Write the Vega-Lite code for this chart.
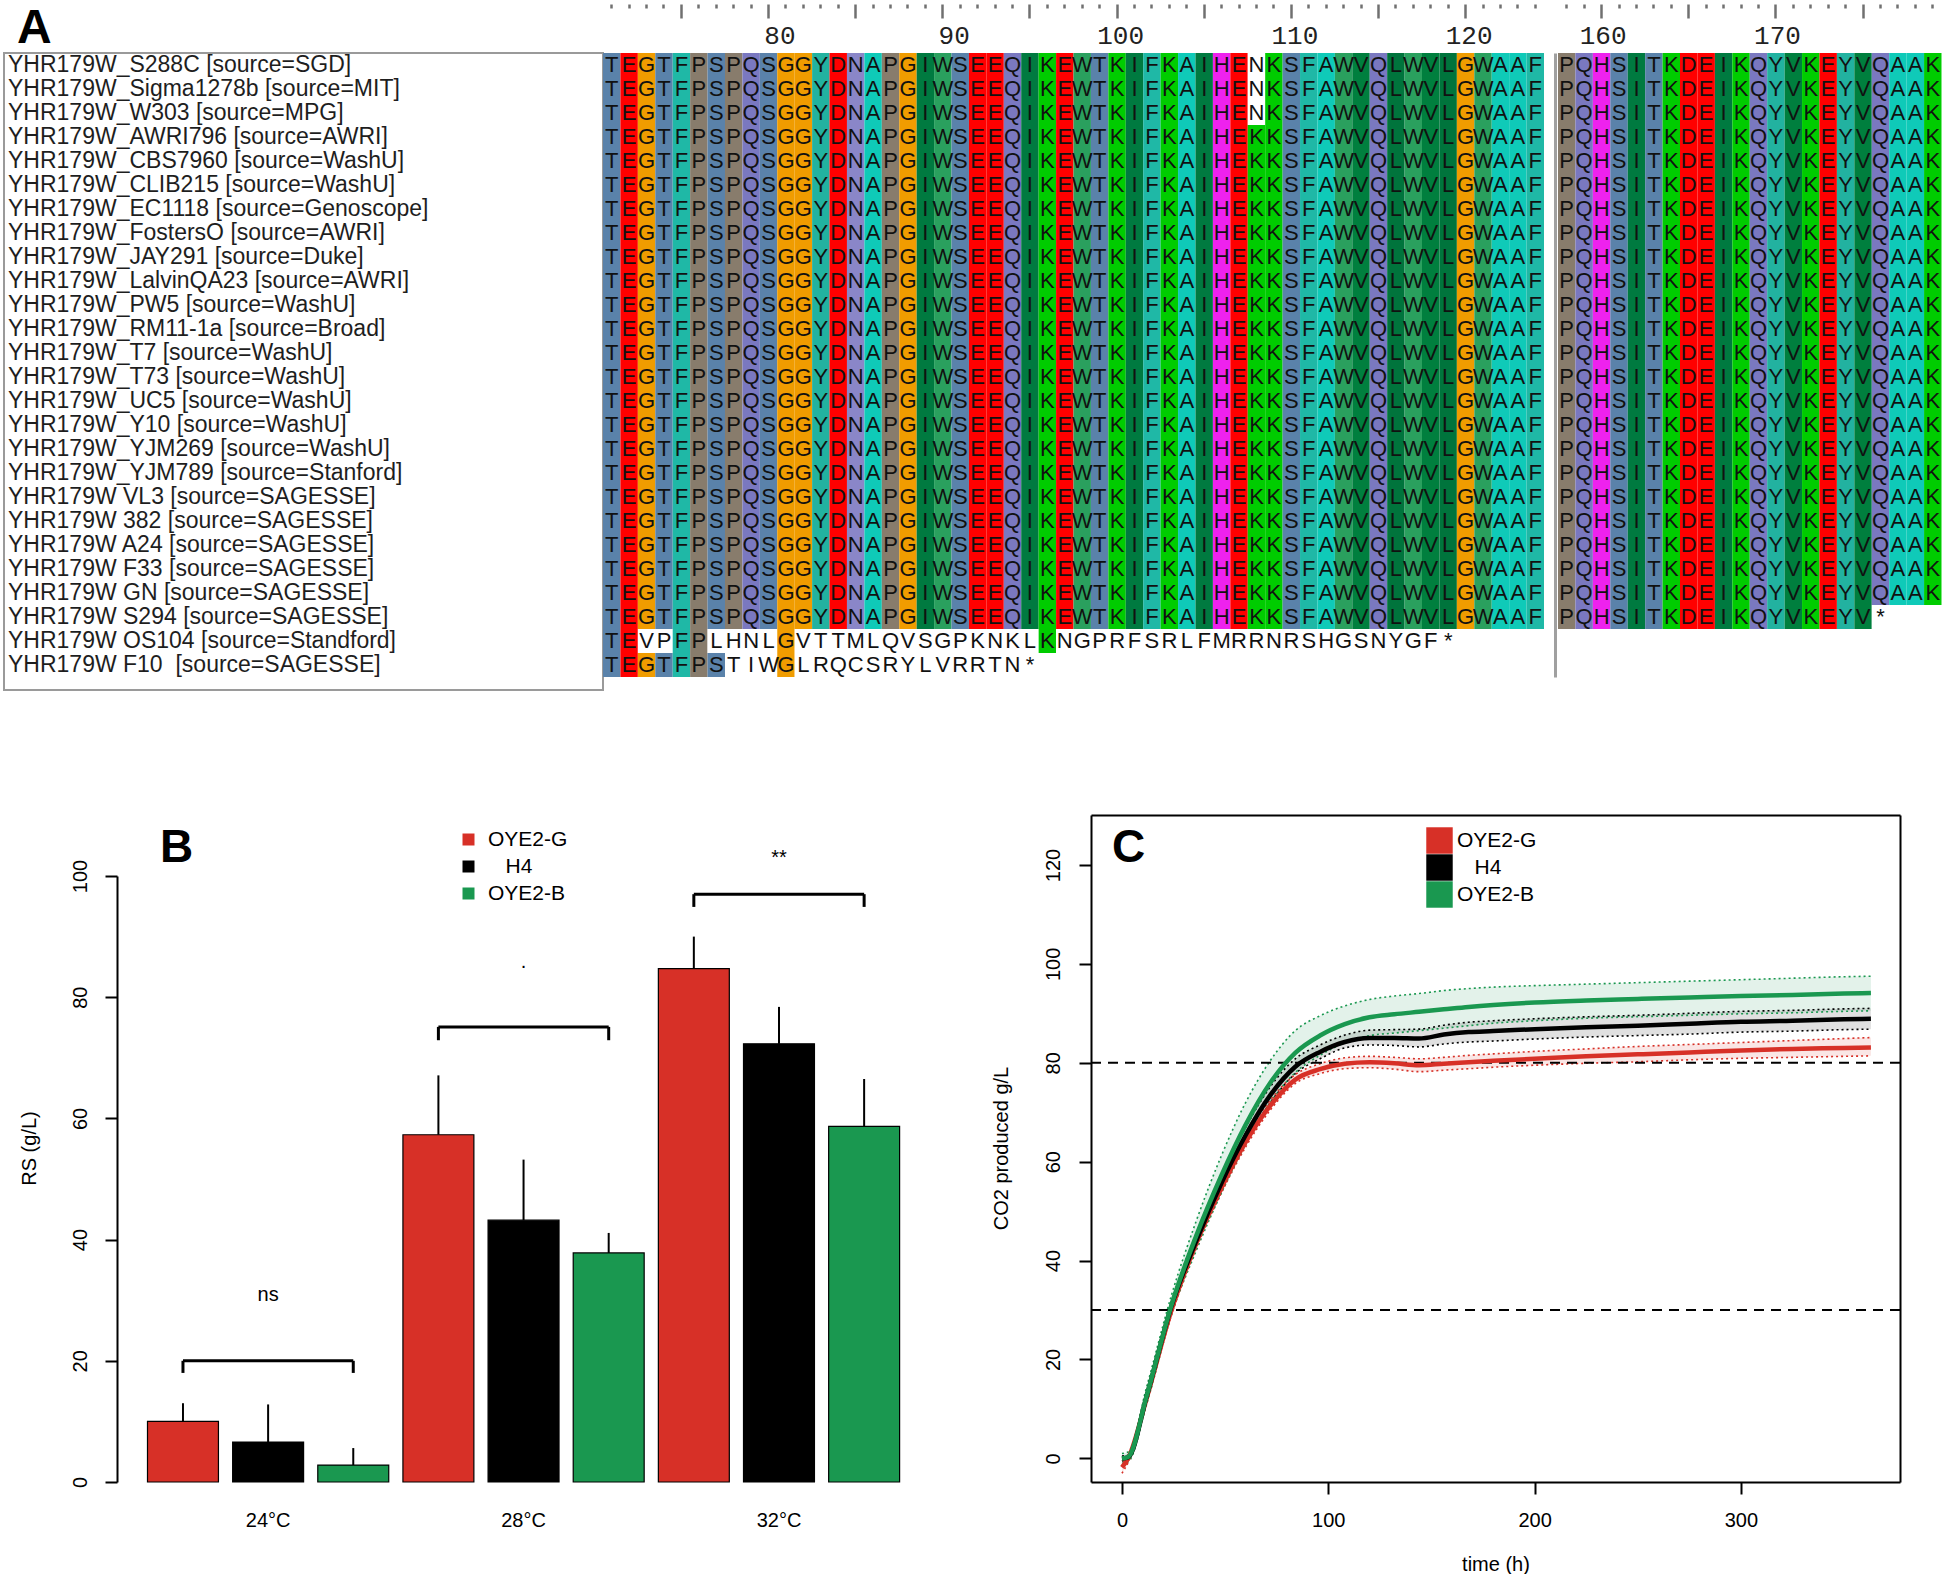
{
"$schema":"https://vega.github.io/schema/vega-lite/v6.json",
"padding":{"left":3,"top":2,"right":0,"bottom":0},
"autosize":{"type":"pad"},
"background":"white",
"config":{"font":"Liberation Sans","view":{"stroke":null},"axis":{"grid":false}},
"columns":3,
"align":"each",
"bounds":"flush",
"spacing":{"row":125,"column":0},
"resolve":{"scale":{"color":"independent"},"legend":{"color":"independent"}},
"datasets":{
"names":[{"r":1,"n":"YHR179W_S288C [source=SGD]"},{"r":2,"n":"YHR179W_Sigma1278b [source=MIT]"},{"r":3,"n":"YHR179W_W303 [source=MPG]"},{"r":4,"n":"YHR179W_AWRI796 [source=AWRI]"},{"r":5,"n":"YHR179W_CBS7960 [source=WashU]"},{"r":6,"n":"YHR179W_CLIB215 [source=WashU]"},{"r":7,"n":"YHR179W_EC1118 [source=Genoscope]"},{"r":8,"n":"YHR179W_FostersO [source=AWRI]"},{"r":9,"n":"YHR179W_JAY291 [source=Duke]"},{"r":10,"n":"YHR179W_LalvinQA23 [source=AWRI]"},{"r":11,"n":"YHR179W_PW5 [source=WashU]"},{"r":12,"n":"YHR179W_RM11-1a [source=Broad]"},{"r":13,"n":"YHR179W_T7 [source=WashU]"},{"r":14,"n":"YHR179W_T73 [source=WashU]"},{"r":15,"n":"YHR179W_UC5 [source=WashU]"},{"r":16,"n":"YHR179W_Y10 [source=WashU]"},{"r":17,"n":"YHR179W_YJM269 [source=WashU]"},{"r":18,"n":"YHR179W_YJM789 [source=Stanford]"},{"r":19,"n":"YHR179W VL3 [source=SAGESSE]"},{"r":20,"n":"YHR179W 382 [source=SAGESSE]"},{"r":21,"n":"YHR179W A24 [source=SAGESSE]"},{"r":22,"n":"YHR179W F33 [source=SAGESSE]"},{"r":23,"n":"YHR179W GN [source=SAGESSE]"},{"r":24,"n":"YHR179W S294 [source=SAGESSE]"},{"r":25,"n":"YHR179W OS104 [source=Standford]"},{"r":26,"n":"YHR179W F10\u00a0 [source=SAGESSE]"}],
"cons":[{"p":71,"c":"T"},{"p":72,"c":"E"},{"p":73,"c":"G"},{"p":74,"c":"T"},{"p":75,"c":"F"},{"p":76,"c":"P"},{"p":77,"c":"S"},{"p":78,"c":"P"},{"p":79,"c":"Q"},{"p":80,"c":"S"},{"p":81,"c":"G"},{"p":82,"c":"G"},{"p":83,"c":"Y"},{"p":84,"c":"D"},{"p":85,"c":"N"},{"p":86,"c":"A"},{"p":87,"c":"P"},{"p":88,"c":"G"},{"p":89,"c":"I"},{"p":90,"c":"W"},{"p":91,"c":"S"},{"p":92,"c":"E"},{"p":93,"c":"E"},{"p":94,"c":"Q"},{"p":95,"c":"I"},{"p":96,"c":"K"},{"p":97,"c":"E"},{"p":98,"c":"W"},{"p":99,"c":"T"},{"p":100,"c":"K"},{"p":101,"c":"I"},{"p":102,"c":"F"},{"p":103,"c":"K"},{"p":104,"c":"A"},{"p":105,"c":"I"},{"p":106,"c":"H"},{"p":107,"c":"E"},{"p":108,"c":"K"},{"p":109,"c":"K"},{"p":110,"c":"S"},{"p":111,"c":"F"},{"p":112,"c":"A"},{"p":113,"c":"W"},{"p":114,"c":"V"},{"p":115,"c":"Q"},{"p":116,"c":"L"},{"p":117,"c":"W"},{"p":118,"c":"V"},{"p":119,"c":"L"},{"p":120,"c":"G"},{"p":121,"c":"W"},{"p":122,"c":"A"},{"p":123,"c":"A"},{"p":124,"c":"F"},{"p":158,"c":"P"},{"p":159,"c":"Q"},{"p":160,"c":"H"},{"p":161,"c":"S"},{"p":162,"c":"I"},{"p":163,"c":"T"},{"p":164,"c":"K"},{"p":165,"c":"D"},{"p":166,"c":"E"},{"p":167,"c":"I"},{"p":168,"c":"K"},{"p":169,"c":"Q"},{"p":170,"c":"Y"},{"p":171,"c":"V"},{"p":172,"c":"K"},{"p":173,"c":"E"},{"p":174,"c":"Y"},{"p":175,"c":"V"},{"p":176,"c":"Q"},{"p":177,"c":"A"},{"p":178,"c":"A"},{"p":179,"c":"K"}],
"seq":[
{"r":1,"p":71,"a":"T"},{"r":1,"p":72,"a":"E"},{"r":1,"p":73,"a":"G"},{"r":1,"p":74,"a":"T"},{"r":1,"p":75,"a":"F"},{"r":1,"p":76,"a":"P"},{"r":1,"p":77,"a":"S"},{"r":1,"p":78,"a":"P"},{"r":1,"p":79,"a":"Q"},{"r":1,"p":80,"a":"S"},{"r":1,"p":81,"a":"G"},{"r":1,"p":82,"a":"G"},{"r":1,"p":83,"a":"Y"},{"r":1,"p":84,"a":"D"},{"r":1,"p":85,"a":"N"},{"r":1,"p":86,"a":"A"},{"r":1,"p":87,"a":"P"},{"r":1,"p":88,"a":"G"},{"r":1,"p":89,"a":"I"},{"r":1,"p":90,"a":"W"},{"r":1,"p":91,"a":"S"},{"r":1,"p":92,"a":"E"},{"r":1,"p":93,"a":"E"},{"r":1,"p":94,"a":"Q"},{"r":1,"p":95,"a":"I"},{"r":1,"p":96,"a":"K"},{"r":1,"p":97,"a":"E"},{"r":1,"p":98,"a":"W"},{"r":1,"p":99,"a":"T"},{"r":1,"p":100,"a":"K"},{"r":1,"p":101,"a":"I"},{"r":1,"p":102,"a":"F"},{"r":1,"p":103,"a":"K"},{"r":1,"p":104,"a":"A"},{"r":1,"p":105,"a":"I"},{"r":1,"p":106,"a":"H"},{"r":1,"p":107,"a":"E"},{"r":1,"p":108,"a":"N"},{"r":1,"p":109,"a":"K"},{"r":1,"p":110,"a":"S"},{"r":1,"p":111,"a":"F"},{"r":1,"p":112,"a":"A"},{"r":1,"p":113,"a":"W"},{"r":1,"p":114,"a":"V"},{"r":1,"p":115,"a":"Q"},{"r":1,"p":116,"a":"L"},{"r":1,"p":117,"a":"W"},{"r":1,"p":118,"a":"V"},{"r":1,"p":119,"a":"L"},{"r":1,"p":120,"a":"G"},{"r":1,"p":121,"a":"W"},{"r":1,"p":122,"a":"A"},{"r":1,"p":123,"a":"A"},{"r":1,"p":124,"a":"F"},
{"r":2,"p":71,"a":"T"},{"r":2,"p":72,"a":"E"},{"r":2,"p":73,"a":"G"},{"r":2,"p":74,"a":"T"},{"r":2,"p":75,"a":"F"},{"r":2,"p":76,"a":"P"},{"r":2,"p":77,"a":"S"},{"r":2,"p":78,"a":"P"},{"r":2,"p":79,"a":"Q"},{"r":2,"p":80,"a":"S"},{"r":2,"p":81,"a":"G"},{"r":2,"p":82,"a":"G"},{"r":2,"p":83,"a":"Y"},{"r":2,"p":84,"a":"D"},{"r":2,"p":85,"a":"N"},{"r":2,"p":86,"a":"A"},{"r":2,"p":87,"a":"P"},{"r":2,"p":88,"a":"G"},{"r":2,"p":89,"a":"I"},{"r":2,"p":90,"a":"W"},{"r":2,"p":91,"a":"S"},{"r":2,"p":92,"a":"E"},{"r":2,"p":93,"a":"E"},{"r":2,"p":94,"a":"Q"},{"r":2,"p":95,"a":"I"},{"r":2,"p":96,"a":"K"},{"r":2,"p":97,"a":"E"},{"r":2,"p":98,"a":"W"},{"r":2,"p":99,"a":"T"},{"r":2,"p":100,"a":"K"},{"r":2,"p":101,"a":"I"},{"r":2,"p":102,"a":"F"},{"r":2,"p":103,"a":"K"},{"r":2,"p":104,"a":"A"},{"r":2,"p":105,"a":"I"},{"r":2,"p":106,"a":"H"},{"r":2,"p":107,"a":"E"},{"r":2,"p":108,"a":"N"},{"r":2,"p":109,"a":"K"},{"r":2,"p":110,"a":"S"},{"r":2,"p":111,"a":"F"},{"r":2,"p":112,"a":"A"},{"r":2,"p":113,"a":"W"},{"r":2,"p":114,"a":"V"},{"r":2,"p":115,"a":"Q"},{"r":2,"p":116,"a":"L"},{"r":2,"p":117,"a":"W"},{"r":2,"p":118,"a":"V"},{"r":2,"p":119,"a":"L"},{"r":2,"p":120,"a":"G"},{"r":2,"p":121,"a":"W"},{"r":2,"p":122,"a":"A"},{"r":2,"p":123,"a":"A"},{"r":2,"p":124,"a":"F"},
{"r":3,"p":71,"a":"T"},{"r":3,"p":72,"a":"E"},{"r":3,"p":73,"a":"G"},{"r":3,"p":74,"a":"T"},{"r":3,"p":75,"a":"F"},{"r":3,"p":76,"a":"P"},{"r":3,"p":77,"a":"S"},{"r":3,"p":78,"a":"P"},{"r":3,"p":79,"a":"Q"},{"r":3,"p":80,"a":"S"},{"r":3,"p":81,"a":"G"},{"r":3,"p":82,"a":"G"},{"r":3,"p":83,"a":"Y"},{"r":3,"p":84,"a":"D"},{"r":3,"p":85,"a":"N"},{"r":3,"p":86,"a":"A"},{"r":3,"p":87,"a":"P"},{"r":3,"p":88,"a":"G"},{"r":3,"p":89,"a":"I"},{"r":3,"p":90,"a":"W"},{"r":3,"p":91,"a":"S"},{"r":3,"p":92,"a":"E"},{"r":3,"p":93,"a":"E"},{"r":3,"p":94,"a":"Q"},{"r":3,"p":95,"a":"I"},{"r":3,"p":96,"a":"K"},{"r":3,"p":97,"a":"E"},{"r":3,"p":98,"a":"W"},{"r":3,"p":99,"a":"T"},{"r":3,"p":100,"a":"K"},{"r":3,"p":101,"a":"I"},{"r":3,"p":102,"a":"F"},{"r":3,"p":103,"a":"K"},{"r":3,"p":104,"a":"A"},{"r":3,"p":105,"a":"I"},{"r":3,"p":106,"a":"H"},{"r":3,"p":107,"a":"E"},{"r":3,"p":108,"a":"N"},{"r":3,"p":109,"a":"K"},{"r":3,"p":110,"a":"S"},{"r":3,"p":111,"a":"F"},{"r":3,"p":112,"a":"A"},{"r":3,"p":113,"a":"W"},{"r":3,"p":114,"a":"V"},{"r":3,"p":115,"a":"Q"},{"r":3,"p":116,"a":"L"},{"r":3,"p":117,"a":"W"},{"r":3,"p":118,"a":"V"},{"r":3,"p":119,"a":"L"},{"r":3,"p":120,"a":"G"},{"r":3,"p":121,"a":"W"},{"r":3,"p":122,"a":"A"},{"r":3,"p":123,"a":"A"},{"r":3,"p":124,"a":"F"},
{"r":4,"p":71,"a":"T"},{"r":4,"p":72,"a":"E"},{"r":4,"p":73,"a":"G"},{"r":4,"p":74,"a":"T"},{"r":4,"p":75,"a":"F"},{"r":4,"p":76,"a":"P"},{"r":4,"p":77,"a":"S"},{"r":4,"p":78,"a":"P"},{"r":4,"p":79,"a":"Q"},{"r":4,"p":80,"a":"S"},{"r":4,"p":81,"a":"G"},{"r":4,"p":82,"a":"G"},{"r":4,"p":83,"a":"Y"},{"r":4,"p":84,"a":"D"},{"r":4,"p":85,"a":"N"},{"r":4,"p":86,"a":"A"},{"r":4,"p":87,"a":"P"},{"r":4,"p":88,"a":"G"},{"r":4,"p":89,"a":"I"},{"r":4,"p":90,"a":"W"},{"r":4,"p":91,"a":"S"},{"r":4,"p":92,"a":"E"},{"r":4,"p":93,"a":"E"},{"r":4,"p":94,"a":"Q"},{"r":4,"p":95,"a":"I"},{"r":4,"p":96,"a":"K"},{"r":4,"p":97,"a":"E"},{"r":4,"p":98,"a":"W"},{"r":4,"p":99,"a":"T"},{"r":4,"p":100,"a":"K"},{"r":4,"p":101,"a":"I"},{"r":4,"p":102,"a":"F"},{"r":4,"p":103,"a":"K"},{"r":4,"p":104,"a":"A"},{"r":4,"p":105,"a":"I"},{"r":4,"p":106,"a":"H"},{"r":4,"p":107,"a":"E"},{"r":4,"p":108,"a":"K"},{"r":4,"p":109,"a":"K"},{"r":4,"p":110,"a":"S"},{"r":4,"p":111,"a":"F"},{"r":4,"p":112,"a":"A"},{"r":4,"p":113,"a":"W"},{"r":4,"p":114,"a":"V"},{"r":4,"p":115,"a":"Q"},{"r":4,"p":116,"a":"L"},{"r":4,"p":117,"a":"W"},{"r":4,"p":118,"a":"V"},{"r":4,"p":119,"a":"L"},{"r":4,"p":120,"a":"G"},{"r":4,"p":121,"a":"W"},{"r":4,"p":122,"a":"A"},{"r":4,"p":123,"a":"A"},{"r":4,"p":124,"a":"F"},
{"r":5,"p":71,"a":"T"},{"r":5,"p":72,"a":"E"},{"r":5,"p":73,"a":"G"},{"r":5,"p":74,"a":"T"},{"r":5,"p":75,"a":"F"},{"r":5,"p":76,"a":"P"},{"r":5,"p":77,"a":"S"},{"r":5,"p":78,"a":"P"},{"r":5,"p":79,"a":"Q"},{"r":5,"p":80,"a":"S"},{"r":5,"p":81,"a":"G"},{"r":5,"p":82,"a":"G"},{"r":5,"p":83,"a":"Y"},{"r":5,"p":84,"a":"D"},{"r":5,"p":85,"a":"N"},{"r":5,"p":86,"a":"A"},{"r":5,"p":87,"a":"P"},{"r":5,"p":88,"a":"G"},{"r":5,"p":89,"a":"I"},{"r":5,"p":90,"a":"W"},{"r":5,"p":91,"a":"S"},{"r":5,"p":92,"a":"E"},{"r":5,"p":93,"a":"E"},{"r":5,"p":94,"a":"Q"},{"r":5,"p":95,"a":"I"},{"r":5,"p":96,"a":"K"},{"r":5,"p":97,"a":"E"},{"r":5,"p":98,"a":"W"},{"r":5,"p":99,"a":"T"},{"r":5,"p":100,"a":"K"},{"r":5,"p":101,"a":"I"},{"r":5,"p":102,"a":"F"},{"r":5,"p":103,"a":"K"},{"r":5,"p":104,"a":"A"},{"r":5,"p":105,"a":"I"},{"r":5,"p":106,"a":"H"},{"r":5,"p":107,"a":"E"},{"r":5,"p":108,"a":"K"},{"r":5,"p":109,"a":"K"},{"r":5,"p":110,"a":"S"},{"r":5,"p":111,"a":"F"},{"r":5,"p":112,"a":"A"},{"r":5,"p":113,"a":"W"},{"r":5,"p":114,"a":"V"},{"r":5,"p":115,"a":"Q"},{"r":5,"p":116,"a":"L"},{"r":5,"p":117,"a":"W"},{"r":5,"p":118,"a":"V"},{"r":5,"p":119,"a":"L"},{"r":5,"p":120,"a":"G"},{"r":5,"p":121,"a":"W"},{"r":5,"p":122,"a":"A"},{"r":5,"p":123,"a":"A"},{"r":5,"p":124,"a":"F"},
{"r":6,"p":71,"a":"T"},{"r":6,"p":72,"a":"E"},{"r":6,"p":73,"a":"G"},{"r":6,"p":74,"a":"T"},{"r":6,"p":75,"a":"F"},{"r":6,"p":76,"a":"P"},{"r":6,"p":77,"a":"S"},{"r":6,"p":78,"a":"P"},{"r":6,"p":79,"a":"Q"},{"r":6,"p":80,"a":"S"},{"r":6,"p":81,"a":"G"},{"r":6,"p":82,"a":"G"},{"r":6,"p":83,"a":"Y"},{"r":6,"p":84,"a":"D"},{"r":6,"p":85,"a":"N"},{"r":6,"p":86,"a":"A"},{"r":6,"p":87,"a":"P"},{"r":6,"p":88,"a":"G"},{"r":6,"p":89,"a":"I"},{"r":6,"p":90,"a":"W"},{"r":6,"p":91,"a":"S"},{"r":6,"p":92,"a":"E"},{"r":6,"p":93,"a":"E"},{"r":6,"p":94,"a":"Q"},{"r":6,"p":95,"a":"I"},{"r":6,"p":96,"a":"K"},{"r":6,"p":97,"a":"E"},{"r":6,"p":98,"a":"W"},{"r":6,"p":99,"a":"T"},{"r":6,"p":100,"a":"K"},{"r":6,"p":101,"a":"I"},{"r":6,"p":102,"a":"F"},{"r":6,"p":103,"a":"K"},{"r":6,"p":104,"a":"A"},{"r":6,"p":105,"a":"I"},{"r":6,"p":106,"a":"H"},{"r":6,"p":107,"a":"E"},{"r":6,"p":108,"a":"K"},{"r":6,"p":109,"a":"K"},{"r":6,"p":110,"a":"S"},{"r":6,"p":111,"a":"F"},{"r":6,"p":112,"a":"A"},{"r":6,"p":113,"a":"W"},{"r":6,"p":114,"a":"V"},{"r":6,"p":115,"a":"Q"},{"r":6,"p":116,"a":"L"},{"r":6,"p":117,"a":"W"},{"r":6,"p":118,"a":"V"},{"r":6,"p":119,"a":"L"},{"r":6,"p":120,"a":"G"},{"r":6,"p":121,"a":"W"},{"r":6,"p":122,"a":"A"},{"r":6,"p":123,"a":"A"},{"r":6,"p":124,"a":"F"},
{"r":7,"p":71,"a":"T"},{"r":7,"p":72,"a":"E"},{"r":7,"p":73,"a":"G"},{"r":7,"p":74,"a":"T"},{"r":7,"p":75,"a":"F"},{"r":7,"p":76,"a":"P"},{"r":7,"p":77,"a":"S"},{"r":7,"p":78,"a":"P"},{"r":7,"p":79,"a":"Q"},{"r":7,"p":80,"a":"S"},{"r":7,"p":81,"a":"G"},{"r":7,"p":82,"a":"G"},{"r":7,"p":83,"a":"Y"},{"r":7,"p":84,"a":"D"},{"r":7,"p":85,"a":"N"},{"r":7,"p":86,"a":"A"},{"r":7,"p":87,"a":"P"},{"r":7,"p":88,"a":"G"},{"r":7,"p":89,"a":"I"},{"r":7,"p":90,"a":"W"},{"r":7,"p":91,"a":"S"},{"r":7,"p":92,"a":"E"},{"r":7,"p":93,"a":"E"},{"r":7,"p":94,"a":"Q"},{"r":7,"p":95,"a":"I"},{"r":7,"p":96,"a":"K"},{"r":7,"p":97,"a":"E"},{"r":7,"p":98,"a":"W"},{"r":7,"p":99,"a":"T"},{"r":7,"p":100,"a":"K"},{"r":7,"p":101,"a":"I"},{"r":7,"p":102,"a":"F"},{"r":7,"p":103,"a":"K"},{"r":7,"p":104,"a":"A"},{"r":7,"p":105,"a":"I"},{"r":7,"p":106,"a":"H"},{"r":7,"p":107,"a":"E"},{"r":7,"p":108,"a":"K"},{"r":7,"p":109,"a":"K"},{"r":7,"p":110,"a":"S"},{"r":7,"p":111,"a":"F"},{"r":7,"p":112,"a":"A"},{"r":7,"p":113,"a":"W"},{"r":7,"p":114,"a":"V"},{"r":7,"p":115,"a":"Q"},{"r":7,"p":116,"a":"L"},{"r":7,"p":117,"a":"W"},{"r":7,"p":118,"a":"V"},{"r":7,"p":119,"a":"L"},{"r":7,"p":120,"a":"G"},{"r":7,"p":121,"a":"W"},{"r":7,"p":122,"a":"A"},{"r":7,"p":123,"a":"A"},{"r":7,"p":124,"a":"F"},
{"r":8,"p":71,"a":"T"},{"r":8,"p":72,"a":"E"},{"r":8,"p":73,"a":"G"},{"r":8,"p":74,"a":"T"},{"r":8,"p":75,"a":"F"},{"r":8,"p":76,"a":"P"},{"r":8,"p":77,"a":"S"},{"r":8,"p":78,"a":"P"},{"r":8,"p":79,"a":"Q"},{"r":8,"p":80,"a":"S"},{"r":8,"p":81,"a":"G"},{"r":8,"p":82,"a":"G"},{"r":8,"p":83,"a":"Y"},{"r":8,"p":84,"a":"D"},{"r":8,"p":85,"a":"N"},{"r":8,"p":86,"a":"A"},{"r":8,"p":87,"a":"P"},{"r":8,"p":88,"a":"G"},{"r":8,"p":89,"a":"I"},{"r":8,"p":90,"a":"W"},{"r":8,"p":91,"a":"S"},{"r":8,"p":92,"a":"E"},{"r":8,"p":93,"a":"E"},{"r":8,"p":94,"a":"Q"},{"r":8,"p":95,"a":"I"},{"r":8,"p":96,"a":"K"},{"r":8,"p":97,"a":"E"},{"r":8,"p":98,"a":"W"},{"r":8,"p":99,"a":"T"},{"r":8,"p":100,"a":"K"},{"r":8,"p":101,"a":"I"},{"r":8,"p":102,"a":"F"},{"r":8,"p":103,"a":"K"},{"r":8,"p":104,"a":"A"},{"r":8,"p":105,"a":"I"},{"r":8,"p":106,"a":"H"},{"r":8,"p":107,"a":"E"},{"r":8,"p":108,"a":"K"},{"r":8,"p":109,"a":"K"},{"r":8,"p":110,"a":"S"},{"r":8,"p":111,"a":"F"},{"r":8,"p":112,"a":"A"},{"r":8,"p":113,"a":"W"},{"r":8,"p":114,"a":"V"},{"r":8,"p":115,"a":"Q"},{"r":8,"p":116,"a":"L"},{"r":8,"p":117,"a":"W"},{"r":8,"p":118,"a":"V"},{"r":8,"p":119,"a":"L"},{"r":8,"p":120,"a":"G"},{"r":8,"p":121,"a":"W"},{"r":8,"p":122,"a":"A"},{"r":8,"p":123,"a":"A"},{"r":8,"p":124,"a":"F"},
{"r":9,"p":71,"a":"T"},{"r":9,"p":72,"a":"E"},{"r":9,"p":73,"a":"G"},{"r":9,"p":74,"a":"T"},{"r":9,"p":75,"a":"F"},{"r":9,"p":76,"a":"P"},{"r":9,"p":77,"a":"S"},{"r":9,"p":78,"a":"P"},{"r":9,"p":79,"a":"Q"},{"r":9,"p":80,"a":"S"},{"r":9,"p":81,"a":"G"},{"r":9,"p":82,"a":"G"},{"r":9,"p":83,"a":"Y"},{"r":9,"p":84,"a":"D"},{"r":9,"p":85,"a":"N"},{"r":9,"p":86,"a":"A"},{"r":9,"p":87,"a":"P"},{"r":9,"p":88,"a":"G"},{"r":9,"p":89,"a":"I"},{"r":9,"p":90,"a":"W"},{"r":9,"p":91,"a":"S"},{"r":9,"p":92,"a":"E"},{"r":9,"p":93,"a":"E"},{"r":9,"p":94,"a":"Q"},{"r":9,"p":95,"a":"I"},{"r":9,"p":96,"a":"K"},{"r":9,"p":97,"a":"E"},{"r":9,"p":98,"a":"W"},{"r":9,"p":99,"a":"T"},{"r":9,"p":100,"a":"K"},{"r":9,"p":101,"a":"I"},{"r":9,"p":102,"a":"F"},{"r":9,"p":103,"a":"K"},{"r":9,"p":104,"a":"A"},{"r":9,"p":105,"a":"I"},{"r":9,"p":106,"a":"H"},{"r":9,"p":107,"a":"E"},{"r":9,"p":108,"a":"K"},{"r":9,"p":109,"a":"K"},{"r":9,"p":110,"a":"S"},{"r":9,"p":111,"a":"F"},{"r":9,"p":112,"a":"A"},{"r":9,"p":113,"a":"W"},{"r":9,"p":114,"a":"V"},{"r":9,"p":115,"a":"Q"},{"r":9,"p":116,"a":"L"},{"r":9,"p":117,"a":"W"},{"r":9,"p":118,"a":"V"},{"r":9,"p":119,"a":"L"},{"r":9,"p":120,"a":"G"},{"r":9,"p":121,"a":"W"},{"r":9,"p":122,"a":"A"},{"r":9,"p":123,"a":"A"},{"r":9,"p":124,"a":"F"},
{"r":10,"p":71,"a":"T"},{"r":10,"p":72,"a":"E"},{"r":10,"p":73,"a":"G"},{"r":10,"p":74,"a":"T"},{"r":10,"p":75,"a":"F"},{"r":10,"p":76,"a":"P"},{"r":10,"p":77,"a":"S"},{"r":10,"p":78,"a":"P"},{"r":10,"p":79,"a":"Q"},{"r":10,"p":80,"a":"S"},{"r":10,"p":81,"a":"G"},{"r":10,"p":82,"a":"G"},{"r":10,"p":83,"a":"Y"},{"r":10,"p":84,"a":"D"},{"r":10,"p":85,"a":"N"},{"r":10,"p":86,"a":"A"},{"r":10,"p":87,"a":"P"},{"r":10,"p":88,"a":"G"},{"r":10,"p":89,"a":"I"},{"r":10,"p":90,"a":"W"},{"r":10,"p":91,"a":"S"},{"r":10,"p":92,"a":"E"},{"r":10,"p":93,"a":"E"},{"r":10,"p":94,"a":"Q"},{"r":10,"p":95,"a":"I"},{"r":10,"p":96,"a":"K"},{"r":10,"p":97,"a":"E"},{"r":10,"p":98,"a":"W"},{"r":10,"p":99,"a":"T"},{"r":10,"p":100,"a":"K"},{"r":10,"p":101,"a":"I"},{"r":10,"p":102,"a":"F"},{"r":10,"p":103,"a":"K"},{"r":10,"p":104,"a":"A"},{"r":10,"p":105,"a":"I"},{"r":10,"p":106,"a":"H"},{"r":10,"p":107,"a":"E"},{"r":10,"p":108,"a":"K"},{"r":10,"p":109,"a":"K"},{"r":10,"p":110,"a":"S"},{"r":10,"p":111,"a":"F"},{"r":10,"p":112,"a":"A"},{"r":10,"p":113,"a":"W"},{"r":10,"p":114,"a":"V"},{"r":10,"p":115,"a":"Q"},{"r":10,"p":116,"a":"L"},{"r":10,"p":117,"a":"W"},{"r":10,"p":118,"a":"V"},{"r":10,"p":119,"a":"L"},{"r":10,"p":120,"a":"G"},{"r":10,"p":121,"a":"W"},{"r":10,"p":122,"a":"A"},{"r":10,"p":123,"a":"A"},{"r":10,"p":124,"a":"F"},
{"r":11,"p":71,"a":"T"},{"r":11,"p":72,"a":"E"},{"r":11,"p":73,"a":"G"},{"r":11,"p":74,"a":"T"},{"r":11,"p":75,"a":"F"},{"r":11,"p":76,"a":"P"},{"r":11,"p":77,"a":"S"},{"r":11,"p":78,"a":"P"},{"r":11,"p":79,"a":"Q"},{"r":11,"p":80,"a":"S"},{"r":11,"p":81,"a":"G"},{"r":11,"p":82,"a":"G"},{"r":11,"p":83,"a":"Y"},{"r":11,"p":84,"a":"D"},{"r":11,"p":85,"a":"N"},{"r":11,"p":86,"a":"A"},{"r":11,"p":87,"a":"P"},{"r":11,"p":88,"a":"G"},{"r":11,"p":89,"a":"I"},{"r":11,"p":90,"a":"W"},{"r":11,"p":91,"a":"S"},{"r":11,"p":92,"a":"E"},{"r":11,"p":93,"a":"E"},{"r":11,"p":94,"a":"Q"},{"r":11,"p":95,"a":"I"},{"r":11,"p":96,"a":"K"},{"r":11,"p":97,"a":"E"},{"r":11,"p":98,"a":"W"},{"r":11,"p":99,"a":"T"},{"r":11,"p":100,"a":"K"},{"r":11,"p":101,"a":"I"},{"r":11,"p":102,"a":"F"},{"r":11,"p":103,"a":"K"},{"r":11,"p":104,"a":"A"},{"r":11,"p":105,"a":"I"},{"r":11,"p":106,"a":"H"},{"r":11,"p":107,"a":"E"},{"r":11,"p":108,"a":"K"},{"r":11,"p":109,"a":"K"},{"r":11,"p":110,"a":"S"},{"r":11,"p":111,"a":"F"},{"r":11,"p":112,"a":"A"},{"r":11,"p":113,"a":"W"},{"r":11,"p":114,"a":"V"},{"r":11,"p":115,"a":"Q"},{"r":11,"p":116,"a":"L"},{"r":11,"p":117,"a":"W"},{"r":11,"p":118,"a":"V"},{"r":11,"p":119,"a":"L"},{"r":11,"p":120,"a":"G"},{"r":11,"p":121,"a":"W"},{"r":11,"p":122,"a":"A"},{"r":11,"p":123,"a":"A"},{"r":11,"p":124,"a":"F"},
{"r":12,"p":71,"a":"T"},{"r":12,"p":72,"a":"E"},{"r":12,"p":73,"a":"G"},{"r":12,"p":74,"a":"T"},{"r":12,"p":75,"a":"F"},{"r":12,"p":76,"a":"P"},{"r":12,"p":77,"a":"S"},{"r":12,"p":78,"a":"P"},{"r":12,"p":79,"a":"Q"},{"r":12,"p":80,"a":"S"},{"r":12,"p":81,"a":"G"},{"r":12,"p":82,"a":"G"},{"r":12,"p":83,"a":"Y"},{"r":12,"p":84,"a":"D"},{"r":12,"p":85,"a":"N"},{"r":12,"p":86,"a":"A"},{"r":12,"p":87,"a":"P"},{"r":12,"p":88,"a":"G"},{"r":12,"p":89,"a":"I"},{"r":12,"p":90,"a":"W"},{"r":12,"p":91,"a":"S"},{"r":12,"p":92,"a":"E"},{"r":12,"p":93,"a":"E"},{"r":12,"p":94,"a":"Q"},{"r":12,"p":95,"a":"I"},{"r":12,"p":96,"a":"K"},{"r":12,"p":97,"a":"E"},{"r":12,"p":98,"a":"W"},{"r":12,"p":99,"a":"T"},{"r":12,"p":100,"a":"K"},{"r":12,"p":101,"a":"I"},{"r":12,"p":102,"a":"F"},{"r":12,"p":103,"a":"K"},{"r":12,"p":104,"a":"A"},{"r":12,"p":105,"a":"I"},{"r":12,"p":106,"a":"H"},{"r":12,"p":107,"a":"E"},{"r":12,"p":108,"a":"K"},{"r":12,"p":109,"a":"K"},{"r":12,"p":110,"a":"S"},{"r":12,"p":111,"a":"F"},{"r":12,"p":112,"a":"A"},{"r":12,"p":113,"a":"W"},{"r":12,"p":114,"a":"V"},{"r":12,"p":115,"a":"Q"},{"r":12,"p":116,"a":"L"},{"r":12,"p":117,"a":"W"},{"r":12,"p":118,"a":"V"},{"r":12,"p":119,"a":"L"},{"r":12,"p":120,"a":"G"},{"r":12,"p":121,"a":"W"},{"r":12,"p":122,"a":"A"},{"r":12,"p":123,"a":"A"},{"r":12,"p":124,"a":"F"},
{"r":13,"p":71,"a":"T"},{"r":13,"p":72,"a":"E"},{"r":13,"p":73,"a":"G"},{"r":13,"p":74,"a":"T"},{"r":13,"p":75,"a":"F"},{"r":13,"p":76,"a":"P"},{"r":13,"p":77,"a":"S"},{"r":13,"p":78,"a":"P"},{"r":13,"p":79,"a":"Q"},{"r":13,"p":80,"a":"S"},{"r":13,"p":81,"a":"G"},{"r":13,"p":82,"a":"G"},{"r":13,"p":83,"a":"Y"},{"r":13,"p":84,"a":"D"},{"r":13,"p":85,"a":"N"},{"r":13,"p":86,"a":"A"},{"r":13,"p":87,"a":"P"},{"r":13,"p":88,"a":"G"},{"r":13,"p":89,"a":"I"},{"r":13,"p":90,"a":"W"},{"r":13,"p":91,"a":"S"},{"r":13,"p":92,"a":"E"},{"r":13,"p":93,"a":"E"},{"r":13,"p":94,"a":"Q"},{"r":13,"p":95,"a":"I"},{"r":13,"p":96,"a":"K"},{"r":13,"p":97,"a":"E"},{"r":13,"p":98,"a":"W"},{"r":13,"p":99,"a":"T"},{"r":13,"p":100,"a":"K"},{"r":13,"p":101,"a":"I"},{"r":13,"p":102,"a":"F"},{"r":13,"p":103,"a":"K"},{"r":13,"p":104,"a":"A"},{"r":13,"p":105,"a":"I"},{"r":13,"p":106,"a":"H"},{"r":13,"p":107,"a":"E"},{"r":13,"p":108,"a":"K"},{"r":13,"p":109,"a":"K"},{"r":13,"p":110,"a":"S"},{"r":13,"p":111,"a":"F"},{"r":13,"p":112,"a":"A"},{"r":13,"p":113,"a":"W"},{"r":13,"p":114,"a":"V"},{"r":13,"p":115,"a":"Q"},{"r":13,"p":116,"a":"L"},{"r":13,"p":117,"a":"W"},{"r":13,"p":118,"a":"V"},{"r":13,"p":119,"a":"L"},{"r":13,"p":120,"a":"G"},{"r":13,"p":121,"a":"W"},{"r":13,"p":122,"a":"A"},{"r":13,"p":123,"a":"A"},{"r":13,"p":124,"a":"F"},
{"r":14,"p":71,"a":"T"},{"r":14,"p":72,"a":"E"},{"r":14,"p":73,"a":"G"},{"r":14,"p":74,"a":"T"},{"r":14,"p":75,"a":"F"},{"r":14,"p":76,"a":"P"},{"r":14,"p":77,"a":"S"},{"r":14,"p":78,"a":"P"},{"r":14,"p":79,"a":"Q"},{"r":14,"p":80,"a":"S"},{"r":14,"p":81,"a":"G"},{"r":14,"p":82,"a":"G"},{"r":14,"p":83,"a":"Y"},{"r":14,"p":84,"a":"D"},{"r":14,"p":85,"a":"N"},{"r":14,"p":86,"a":"A"},{"r":14,"p":87,"a":"P"},{"r":14,"p":88,"a":"G"},{"r":14,"p":89,"a":"I"},{"r":14,"p":90,"a":"W"},{"r":14,"p":91,"a":"S"},{"r":14,"p":92,"a":"E"},{"r":14,"p":93,"a":"E"},{"r":14,"p":94,"a":"Q"},{"r":14,"p":95,"a":"I"},{"r":14,"p":96,"a":"K"},{"r":14,"p":97,"a":"E"},{"r":14,"p":98,"a":"W"},{"r":14,"p":99,"a":"T"},{"r":14,"p":100,"a":"K"},{"r":14,"p":101,"a":"I"},{"r":14,"p":102,"a":"F"},{"r":14,"p":103,"a":"K"},{"r":14,"p":104,"a":"A"},{"r":14,"p":105,"a":"I"},{"r":14,"p":106,"a":"H"},{"r":14,"p":107,"a":"E"},{"r":14,"p":108,"a":"K"},{"r":14,"p":109,"a":"K"},{"r":14,"p":110,"a":"S"},{"r":14,"p":111,"a":"F"},{"r":14,"p":112,"a":"A"},{"r":14,"p":113,"a":"W"},{"r":14,"p":114,"a":"V"},{"r":14,"p":115,"a":"Q"},{"r":14,"p":116,"a":"L"},{"r":14,"p":117,"a":"W"},{"r":14,"p":118,"a":"V"},{"r":14,"p":119,"a":"L"},{"r":14,"p":120,"a":"G"},{"r":14,"p":121,"a":"W"},{"r":14,"p":122,"a":"A"},{"r":14,"p":123,"a":"A"},{"r":14,"p":124,"a":"F"},
{"r":15,"p":71,"a":"T"},{"r":15,"p":72,"a":"E"},{"r":15,"p":73,"a":"G"},{"r":15,"p":74,"a":"T"},{"r":15,"p":75,"a":"F"},{"r":15,"p":76,"a":"P"},{"r":15,"p":77,"a":"S"},{"r":15,"p":78,"a":"P"},{"r":15,"p":79,"a":"Q"},{"r":15,"p":80,"a":"S"},{"r":15,"p":81,"a":"G"},{"r":15,"p":82,"a":"G"},{"r":15,"p":83,"a":"Y"},{"r":15,"p":84,"a":"D"},{"r":15,"p":85,"a":"N"},{"r":15,"p":86,"a":"A"},{"r":15,"p":87,"a":"P"},{"r":15,"p":88,"a":"G"},{"r":15,"p":89,"a":"I"},{"r":15,"p":90,"a":"W"},{"r":15,"p":91,"a":"S"},{"r":15,"p":92,"a":"E"},{"r":15,"p":93,"a":"E"},{"r":15,"p":94,"a":"Q"},{"r":15,"p":95,"a":"I"},{"r":15,"p":96,"a":"K"},{"r":15,"p":97,"a":"E"},{"r":15,"p":98,"a":"W"},{"r":15,"p":99,"a":"T"},{"r":15,"p":100,"a":"K"},{"r":15,"p":101,"a":"I"},{"r":15,"p":102,"a":"F"},{"r":15,"p":103,"a":"K"},{"r":15,"p":104,"a":"A"},{"r":15,"p":105,"a":"I"},{"r":15,"p":106,"a":"H"},{"r":15,"p":107,"a":"E"},{"r":15,"p":108,"a":"K"},{"r":15,"p":109,"a":"K"},{"r":15,"p":110,"a":"S"},{"r":15,"p":111,"a":"F"},{"r":15,"p":112,"a":"A"},{"r":15,"p":113,"a":"W"},{"r":15,"p":114,"a":"V"},{"r":15,"p":115,"a":"Q"},{"r":15,"p":116,"a":"L"},{"r":15,"p":117,"a":"W"},{"r":15,"p":118,"a":"V"},{"r":15,"p":119,"a":"L"},{"r":15,"p":120,"a":"G"},{"r":15,"p":121,"a":"W"},{"r":15,"p":122,"a":"A"},{"r":15,"p":123,"a":"A"},{"r":15,"p":124,"a":"F"},
{"r":16,"p":71,"a":"T"},{"r":16,"p":72,"a":"E"},{"r":16,"p":73,"a":"G"},{"r":16,"p":74,"a":"T"},{"r":16,"p":75,"a":"F"},{"r":16,"p":76,"a":"P"},{"r":16,"p":77,"a":"S"},{"r":16,"p":78,"a":"P"},{"r":16,"p":79,"a":"Q"},{"r":16,"p":80,"a":"S"},{"r":16,"p":81,"a":"G"},{"r":16,"p":82,"a":"G"},{"r":16,"p":83,"a":"Y"},{"r":16,"p":84,"a":"D"},{"r":16,"p":85,"a":"N"},{"r":16,"p":86,"a":"A"},{"r":16,"p":87,"a":"P"},{"r":16,"p":88,"a":"G"},{"r":16,"p":89,"a":"I"},{"r":16,"p":90,"a":"W"},{"r":16,"p":91,"a":"S"},{"r":16,"p":92,"a":"E"},{"r":16,"p":93,"a":"E"},{"r":16,"p":94,"a":"Q"},{"r":16,"p":95,"a":"I"},{"r":16,"p":96,"a":"K"},{"r":16,"p":97,"a":"E"},{"r":16,"p":98,"a":"W"},{"r":16,"p":99,"a":"T"},{"r":16,"p":100,"a":"K"},{"r":16,"p":101,"a":"I"},{"r":16,"p":102,"a":"F"},{"r":16,"p":103,"a":"K"},{"r":16,"p":104,"a":"A"},{"r":16,"p":105,"a":"I"},{"r":16,"p":106,"a":"H"},{"r":16,"p":107,"a":"E"},{"r":16,"p":108,"a":"K"},{"r":16,"p":109,"a":"K"},{"r":16,"p":110,"a":"S"},{"r":16,"p":111,"a":"F"},{"r":16,"p":112,"a":"A"},{"r":16,"p":113,"a":"W"},{"r":16,"p":114,"a":"V"},{"r":16,"p":115,"a":"Q"},{"r":16,"p":116,"a":"L"},{"r":16,"p":117,"a":"W"},{"r":16,"p":118,"a":"V"},{"r":16,"p":119,"a":"L"},{"r":16,"p":120,"a":"G"},{"r":16,"p":121,"a":"W"},{"r":16,"p":122,"a":"A"},{"r":16,"p":123,"a":"A"},{"r":16,"p":124,"a":"F"},
{"r":17,"p":71,"a":"T"},{"r":17,"p":72,"a":"E"},{"r":17,"p":73,"a":"G"},{"r":17,"p":74,"a":"T"},{"r":17,"p":75,"a":"F"},{"r":17,"p":76,"a":"P"},{"r":17,"p":77,"a":"S"},{"r":17,"p":78,"a":"P"},{"r":17,"p":79,"a":"Q"},{"r":17,"p":80,"a":"S"},{"r":17,"p":81,"a":"G"},{"r":17,"p":82,"a":"G"},{"r":17,"p":83,"a":"Y"},{"r":17,"p":84,"a":"D"},{"r":17,"p":85,"a":"N"},{"r":17,"p":86,"a":"A"},{"r":17,"p":87,"a":"P"},{"r":17,"p":88,"a":"G"},{"r":17,"p":89,"a":"I"},{"r":17,"p":90,"a":"W"},{"r":17,"p":91,"a":"S"},{"r":17,"p":92,"a":"E"},{"r":17,"p":93,"a":"E"},{"r":17,"p":94,"a":"Q"},{"r":17,"p":95,"a":"I"},{"r":17,"p":96,"a":"K"},{"r":17,"p":97,"a":"E"},{"r":17,"p":98,"a":"W"},{"r":17,"p":99,"a":"T"},{"r":17,"p":100,"a":"K"},{"r":17,"p":101,"a":"I"},{"r":17,"p":102,"a":"F"},{"r":17,"p":103,"a":"K"},{"r":17,"p":104,"a":"A"},{"r":17,"p":105,"a":"I"},{"r":17,"p":106,"a":"H"},{"r":17,"p":107,"a":"E"},{"r":17,"p":108,"a":"K"},{"r":17,"p":109,"a":"K"},{"r":17,"p":110,"a":"S"},{"r":17,"p":111,"a":"F"},{"r":17,"p":112,"a":"A"},{"r":17,"p":113,"a":"W"},{"r":17,"p":114,"a":"V"},{"r":17,"p":115,"a":"Q"},{"r":17,"p":116,"a":"L"},{"r":17,"p":117,"a":"W"},{"r":17,"p":118,"a":"V"},{"r":17,"p":119,"a":"L"},{"r":17,"p":120,"a":"G"},{"r":17,"p":121,"a":"W"},{"r":17,"p":122,"a":"A"},{"r":17,"p":123,"a":"A"},{"r":17,"p":124,"a":"F"},
{"r":18,"p":71,"a":"T"},{"r":18,"p":72,"a":"E"},{"r":18,"p":73,"a":"G"},{"r":18,"p":74,"a":"T"},{"r":18,"p":75,"a":"F"},{"r":18,"p":76,"a":"P"},{"r":18,"p":77,"a":"S"},{"r":18,"p":78,"a":"P"},{"r":18,"p":79,"a":"Q"},{"r":18,"p":80,"a":"S"},{"r":18,"p":81,"a":"G"},{"r":18,"p":82,"a":"G"},{"r":18,"p":83,"a":"Y"},{"r":18,"p":84,"a":"D"},{"r":18,"p":85,"a":"N"},{"r":18,"p":86,"a":"A"},{"r":18,"p":87,"a":"P"},{"r":18,"p":88,"a":"G"},{"r":18,"p":89,"a":"I"},{"r":18,"p":90,"a":"W"},{"r":18,"p":91,"a":"S"},{"r":18,"p":92,"a":"E"},{"r":18,"p":93,"a":"E"},{"r":18,"p":94,"a":"Q"},{"r":18,"p":95,"a":"I"},{"r":18,"p":96,"a":"K"},{"r":18,"p":97,"a":"E"},{"r":18,"p":98,"a":"W"},{"r":18,"p":99,"a":"T"},{"r":18,"p":100,"a":"K"},{"r":18,"p":101,"a":"I"},{"r":18,"p":102,"a":"F"},{"r":18,"p":103,"a":"K"},{"r":18,"p":104,"a":"A"},{"r":18,"p":105,"a":"I"},{"r":18,"p":106,"a":"H"},{"r":18,"p":107,"a":"E"},{"r":18,"p":108,"a":"K"},{"r":18,"p":109,"a":"K"},{"r":18,"p":110,"a":"S"},{"r":18,"p":111,"a":"F"},{"r":18,"p":112,"a":"A"},{"r":18,"p":113,"a":"W"},{"r":18,"p":114,"a":"V"},{"r":18,"p":115,"a":"Q"},{"r":18,"p":116,"a":"L"},{"r":18,"p":117,"a":"W"},{"r":18,"p":118,"a":"V"},{"r":18,"p":119,"a":"L"},{"r":18,"p":120,"a":"G"},{"r":18,"p":121,"a":"W"},{"r":18,"p":122,"a":"A"},{"r":18,"p":123,"a":"A"},{"r":18,"p":124,"a":"F"},
{"r":19,"p":71,"a":"T"},{"r":19,"p":72,"a":"E"},{"r":19,"p":73,"a":"G"},{"r":19,"p":74,"a":"T"},{"r":19,"p":75,"a":"F"},{"r":19,"p":76,"a":"P"},{"r":19,"p":77,"a":"S"},{"r":19,"p":78,"a":"P"},{"r":19,"p":79,"a":"Q"},{"r":19,"p":80,"a":"S"},{"r":19,"p":81,"a":"G"},{"r":19,"p":82,"a":"G"},{"r":19,"p":83,"a":"Y"},{"r":19,"p":84,"a":"D"},{"r":19,"p":85,"a":"N"},{"r":19,"p":86,"a":"A"},{"r":19,"p":87,"a":"P"},{"r":19,"p":88,"a":"G"},{"r":19,"p":89,"a":"I"},{"r":19,"p":90,"a":"W"},{"r":19,"p":91,"a":"S"},{"r":19,"p":92,"a":"E"},{"r":19,"p":93,"a":"E"},{"r":19,"p":94,"a":"Q"},{"r":19,"p":95,"a":"I"},{"r":19,"p":96,"a":"K"},{"r":19,"p":97,"a":"E"},{"r":19,"p":98,"a":"W"},{"r":19,"p":99,"a":"T"},{"r":19,"p":100,"a":"K"},{"r":19,"p":101,"a":"I"},{"r":19,"p":102,"a":"F"},{"r":19,"p":103,"a":"K"},{"r":19,"p":104,"a":"A"},{"r":19,"p":105,"a":"I"},{"r":19,"p":106,"a":"H"},{"r":19,"p":107,"a":"E"},{"r":19,"p":108,"a":"K"},{"r":19,"p":109,"a":"K"},{"r":19,"p":110,"a":"S"},{"r":19,"p":111,"a":"F"},{"r":19,"p":112,"a":"A"},{"r":19,"p":113,"a":"W"},{"r":19,"p":114,"a":"V"},{"r":19,"p":115,"a":"Q"},{"r":19,"p":116,"a":"L"},{"r":19,"p":117,"a":"W"},{"r":19,"p":118,"a":"V"},{"r":19,"p":119,"a":"L"},{"r":19,"p":120,"a":"G"},{"r":19,"p":121,"a":"W"},{"r":19,"p":122,"a":"A"},{"r":19,"p":123,"a":"A"},{"r":19,"p":124,"a":"F"},
{"r":20,"p":71,"a":"T"},{"r":20,"p":72,"a":"E"},{"r":20,"p":73,"a":"G"},{"r":20,"p":74,"a":"T"},{"r":20,"p":75,"a":"F"},{"r":20,"p":76,"a":"P"},{"r":20,"p":77,"a":"S"},{"r":20,"p":78,"a":"P"},{"r":20,"p":79,"a":"Q"},{"r":20,"p":80,"a":"S"},{"r":20,"p":81,"a":"G"},{"r":20,"p":82,"a":"G"},{"r":20,"p":83,"a":"Y"},{"r":20,"p":84,"a":"D"},{"r":20,"p":85,"a":"N"},{"r":20,"p":86,"a":"A"},{"r":20,"p":87,"a":"P"},{"r":20,"p":88,"a":"G"},{"r":20,"p":89,"a":"I"},{"r":20,"p":90,"a":"W"},{"r":20,"p":91,"a":"S"},{"r":20,"p":92,"a":"E"},{"r":20,"p":93,"a":"E"},{"r":20,"p":94,"a":"Q"},{"r":20,"p":95,"a":"I"},{"r":20,"p":96,"a":"K"},{"r":20,"p":97,"a":"E"},{"r":20,"p":98,"a":"W"},{"r":20,"p":99,"a":"T"},{"r":20,"p":100,"a":"K"},{"r":20,"p":101,"a":"I"},{"r":20,"p":102,"a":"F"},{"r":20,"p":103,"a":"K"},{"r":20,"p":104,"a":"A"},{"r":20,"p":105,"a":"I"},{"r":20,"p":106,"a":"H"},{"r":20,"p":107,"a":"E"},{"r":20,"p":108,"a":"K"},{"r":20,"p":109,"a":"K"},{"r":20,"p":110,"a":"S"},{"r":20,"p":111,"a":"F"},{"r":20,"p":112,"a":"A"},{"r":20,"p":113,"a":"W"},{"r":20,"p":114,"a":"V"},{"r":20,"p":115,"a":"Q"},{"r":20,"p":116,"a":"L"},{"r":20,"p":117,"a":"W"},{"r":20,"p":118,"a":"V"},{"r":20,"p":119,"a":"L"},{"r":20,"p":120,"a":"G"},{"r":20,"p":121,"a":"W"},{"r":20,"p":122,"a":"A"},{"r":20,"p":123,"a":"A"},{"r":20,"p":124,"a":"F"},
{"r":21,"p":71,"a":"T"},{"r":21,"p":72,"a":"E"},{"r":21,"p":73,"a":"G"},{"r":21,"p":74,"a":"T"},{"r":21,"p":75,"a":"F"},{"r":21,"p":76,"a":"P"},{"r":21,"p":77,"a":"S"},{"r":21,"p":78,"a":"P"},{"r":21,"p":79,"a":"Q"},{"r":21,"p":80,"a":"S"},{"r":21,"p":81,"a":"G"},{"r":21,"p":82,"a":"G"},{"r":21,"p":83,"a":"Y"},{"r":21,"p":84,"a":"D"},{"r":21,"p":85,"a":"N"},{"r":21,"p":86,"a":"A"},{"r":21,"p":87,"a":"P"},{"r":21,"p":88,"a":"G"},{"r":21,"p":89,"a":"I"},{"r":21,"p":90,"a":"W"},{"r":21,"p":91,"a":"S"},{"r":21,"p":92,"a":"E"},{"r":21,"p":93,"a":"E"},{"r":21,"p":94,"a":"Q"},{"r":21,"p":95,"a":"I"},{"r":21,"p":96,"a":"K"},{"r":21,"p":97,"a":"E"},{"r":21,"p":98,"a":"W"},{"r":21,"p":99,"a":"T"},{"r":21,"p":100,"a":"K"},{"r":21,"p":101,"a":"I"},{"r":21,"p":102,"a":"F"},{"r":21,"p":103,"a":"K"},{"r":21,"p":104,"a":"A"},{"r":21,"p":105,"a":"I"},{"r":21,"p":106,"a":"H"},{"r":21,"p":107,"a":"E"},{"r":21,"p":108,"a":"K"},{"r":21,"p":109,"a":"K"},{"r":21,"p":110,"a":"S"},{"r":21,"p":111,"a":"F"},{"r":21,"p":112,"a":"A"},{"r":21,"p":113,"a":"W"},{"r":21,"p":114,"a":"V"},{"r":21,"p":115,"a":"Q"},{"r":21,"p":116,"a":"L"},{"r":21,"p":117,"a":"W"},{"r":21,"p":118,"a":"V"},{"r":21,"p":119,"a":"L"},{"r":21,"p":120,"a":"G"},{"r":21,"p":121,"a":"W"},{"r":21,"p":122,"a":"A"},{"r":21,"p":123,"a":"A"},{"r":21,"p":124,"a":"F"},
{"r":22,"p":71,"a":"T"},{"r":22,"p":72,"a":"E"},{"r":22,"p":73,"a":"G"},{"r":22,"p":74,"a":"T"},{"r":22,"p":75,"a":"F"},{"r":22,"p":76,"a":"P"},{"r":22,"p":77,"a":"S"},{"r":22,"p":78,"a":"P"},{"r":22,"p":79,"a":"Q"},{"r":22,"p":80,"a":"S"},{"r":22,"p":81,"a":"G"},{"r":22,"p":82,"a":"G"},{"r":22,"p":83,"a":"Y"},{"r":22,"p":84,"a":"D"},{"r":22,"p":85,"a":"N"},{"r":22,"p":86,"a":"A"},{"r":22,"p":87,"a":"P"},{"r":22,"p":88,"a":"G"},{"r":22,"p":89,"a":"I"},{"r":22,"p":90,"a":"W"},{"r":22,"p":91,"a":"S"},{"r":22,"p":92,"a":"E"},{"r":22,"p":93,"a":"E"},{"r":22,"p":94,"a":"Q"},{"r":22,"p":95,"a":"I"},{"r":22,"p":96,"a":"K"},{"r":22,"p":97,"a":"E"},{"r":22,"p":98,"a":"W"},{"r":22,"p":99,"a":"T"},{"r":22,"p":100,"a":"K"},{"r":22,"p":101,"a":"I"},{"r":22,"p":102,"a":"F"},{"r":22,"p":103,"a":"K"},{"r":22,"p":104,"a":"A"},{"r":22,"p":105,"a":"I"},{"r":22,"p":106,"a":"H"},{"r":22,"p":107,"a":"E"},{"r":22,"p":108,"a":"K"},{"r":22,"p":109,"a":"K"},{"r":22,"p":110,"a":"S"},{"r":22,"p":111,"a":"F"},{"r":22,"p":112,"a":"A"},{"r":22,"p":113,"a":"W"},{"r":22,"p":114,"a":"V"},{"r":22,"p":115,"a":"Q"},{"r":22,"p":116,"a":"L"},{"r":22,"p":117,"a":"W"},{"r":22,"p":118,"a":"V"},{"r":22,"p":119,"a":"L"},{"r":22,"p":120,"a":"G"},{"r":22,"p":121,"a":"W"},{"r":22,"p":122,"a":"A"},{"r":22,"p":123,"a":"A"},{"r":22,"p":124,"a":"F"},
{"r":23,"p":71,"a":"T"},{"r":23,"p":72,"a":"E"},{"r":23,"p":73,"a":"G"},{"r":23,"p":74,"a":"T"},{"r":23,"p":75,"a":"F"},{"r":23,"p":76,"a":"P"},{"r":23,"p":77,"a":"S"},{"r":23,"p":78,"a":"P"},{"r":23,"p":79,"a":"Q"},{"r":23,"p":80,"a":"S"},{"r":23,"p":81,"a":"G"},{"r":23,"p":82,"a":"G"},{"r":23,"p":83,"a":"Y"},{"r":23,"p":84,"a":"D"},{"r":23,"p":85,"a":"N"},{"r":23,"p":86,"a":"A"},{"r":23,"p":87,"a":"P"},{"r":23,"p":88,"a":"G"},{"r":23,"p":89,"a":"I"},{"r":23,"p":90,"a":"W"},{"r":23,"p":91,"a":"S"},{"r":23,"p":92,"a":"E"},{"r":23,"p":93,"a":"E"},{"r":23,"p":94,"a":"Q"},{"r":23,"p":95,"a":"I"},{"r":23,"p":96,"a":"K"},{"r":23,"p":97,"a":"E"},{"r":23,"p":98,"a":"W"},{"r":23,"p":99,"a":"T"},{"r":23,"p":100,"a":"K"},{"r":23,"p":101,"a":"I"},{"r":23,"p":102,"a":"F"},{"r":23,"p":103,"a":"K"},{"r":23,"p":104,"a":"A"},{"r":23,"p":105,"a":"I"},{"r":23,"p":106,"a":"H"},{"r":23,"p":107,"a":"E"},{"r":23,"p":108,"a":"K"},{"r":23,"p":109,"a":"K"},{"r":23,"p":110,"a":"S"},{"r":23,"p":111,"a":"F"},{"r":23,"p":112,"a":"A"},{"r":23,"p":113,"a":"W"},{"r":23,"p":114,"a":"V"},{"r":23,"p":115,"a":"Q"},{"r":23,"p":116,"a":"L"},{"r":23,"p":117,"a":"W"},{"r":23,"p":118,"a":"V"},{"r":23,"p":119,"a":"L"},{"r":23,"p":120,"a":"G"},{"r":23,"p":121,"a":"W"},{"r":23,"p":122,"a":"A"},{"r":23,"p":123,"a":"A"},{"r":23,"p":124,"a":"F"},
{"r":24,"p":71,"a":"T"},{"r":24,"p":72,"a":"E"},{"r":24,"p":73,"a":"G"},{"r":24,"p":74,"a":"T"},{"r":24,"p":75,"a":"F"},{"r":24,"p":76,"a":"P"},{"r":24,"p":77,"a":"S"},{"r":24,"p":78,"a":"P"},{"r":24,"p":79,"a":"Q"},{"r":24,"p":80,"a":"S"},{"r":24,"p":81,"a":"G"},{"r":24,"p":82,"a":"G"},{"r":24,"p":83,"a":"Y"},{"r":24,"p":84,"a":"D"},{"r":24,"p":85,"a":"N"},{"r":24,"p":86,"a":"A"},{"r":24,"p":87,"a":"P"},{"r":24,"p":88,"a":"G"},{"r":24,"p":89,"a":"I"},{"r":24,"p":90,"a":"W"},{"r":24,"p":91,"a":"S"},{"r":24,"p":92,"a":"E"},{"r":24,"p":93,"a":"E"},{"r":24,"p":94,"a":"Q"},{"r":24,"p":95,"a":"I"},{"r":24,"p":96,"a":"K"},{"r":24,"p":97,"a":"E"},{"r":24,"p":98,"a":"W"},{"r":24,"p":99,"a":"T"},{"r":24,"p":100,"a":"K"},{"r":24,"p":101,"a":"I"},{"r":24,"p":102,"a":"F"},{"r":24,"p":103,"a":"K"},{"r":24,"p":104,"a":"A"},{"r":24,"p":105,"a":"I"},{"r":24,"p":106,"a":"H"},{"r":24,"p":107,"a":"E"},{"r":24,"p":108,"a":"K"},{"r":24,"p":109,"a":"K"},{"r":24,"p":110,"a":"S"},{"r":24,"p":111,"a":"F"},{"r":24,"p":112,"a":"A"},{"r":24,"p":113,"a":"W"},{"r":24,"p":114,"a":"V"},{"r":24,"p":115,"a":"Q"},{"r":24,"p":116,"a":"L"},{"r":24,"p":117,"a":"W"},{"r":24,"p":118,"a":"V"},{"r":24,"p":119,"a":"L"},{"r":24,"p":120,"a":"G"},{"r":24,"p":121,"a":"W"},{"r":24,"p":122,"a":"A"},{"r":24,"p":123,"a":"A"},{"r":24,"p":124,"a":"F"},
{"r":25,"p":71,"a":"T"},{"r":25,"p":72,"a":"E"},{"r":25,"p":73,"a":"V"},{"r":25,"p":74,"a":"P"},{"r":25,"p":75,"a":"F"},{"r":25,"p":76,"a":"P"},{"r":25,"p":77,"a":"L"},{"r":25,"p":78,"a":"H"},{"r":25,"p":79,"a":"N"},{"r":25,"p":80,"a":"L"},{"r":25,"p":81,"a":"G"},{"r":25,"p":82,"a":"V"},{"r":25,"p":83,"a":"T"},{"r":25,"p":84,"a":"T"},{"r":25,"p":85,"a":"M"},{"r":25,"p":86,"a":"L"},{"r":25,"p":87,"a":"Q"},{"r":25,"p":88,"a":"V"},{"r":25,"p":89,"a":"S"},{"r":25,"p":90,"a":"G"},{"r":25,"p":91,"a":"P"},{"r":25,"p":92,"a":"K"},{"r":25,"p":93,"a":"N"},{"r":25,"p":94,"a":"K"},{"r":25,"p":95,"a":"L"},{"r":25,"p":96,"a":"K"},{"r":25,"p":97,"a":"N"},{"r":25,"p":98,"a":"G"},{"r":25,"p":99,"a":"P"},{"r":25,"p":100,"a":"R"},{"r":25,"p":101,"a":"F"},{"r":25,"p":102,"a":"S"},{"r":25,"p":103,"a":"R"},{"r":25,"p":104,"a":"L"},{"r":25,"p":105,"a":"F"},{"r":25,"p":106,"a":"M"},{"r":25,"p":107,"a":"R"},{"r":25,"p":108,"a":"R"},{"r":25,"p":109,"a":"N"},{"r":25,"p":110,"a":"R"},{"r":25,"p":111,"a":"S"},{"r":25,"p":112,"a":"H"},{"r":25,"p":113,"a":"G"},{"r":25,"p":114,"a":"S"},{"r":25,"p":115,"a":"N"},{"r":25,"p":116,"a":"Y"},{"r":25,"p":117,"a":"G"},{"r":25,"p":118,"a":"F"},{"r":25,"p":119,"a":"*"},
{"r":26,"p":71,"a":"T"},{"r":26,"p":72,"a":"E"},{"r":26,"p":73,"a":"G"},{"r":26,"p":74,"a":"T"},{"r":26,"p":75,"a":"F"},{"r":26,"p":76,"a":"P"},{"r":26,"p":77,"a":"S"},{"r":26,"p":78,"a":"T"},{"r":26,"p":79,"a":"I"},{"r":26,"p":80,"a":"W"},{"r":26,"p":81,"a":"G"},{"r":26,"p":82,"a":"L"},{"r":26,"p":83,"a":"R"},{"r":26,"p":84,"a":"Q"},{"r":26,"p":85,"a":"C"},{"r":26,"p":86,"a":"S"},{"r":26,"p":87,"a":"R"},{"r":26,"p":88,"a":"Y"},{"r":26,"p":89,"a":"L"},{"r":26,"p":90,"a":"V"},{"r":26,"p":91,"a":"R"},{"r":26,"p":92,"a":"R"},{"r":26,"p":93,"a":"T"},{"r":26,"p":94,"a":"N"},{"r":26,"p":95,"a":"*"},
{"r":1,"p":158,"a":"P"},{"r":1,"p":159,"a":"Q"},{"r":1,"p":160,"a":"H"},{"r":1,"p":161,"a":"S"},{"r":1,"p":162,"a":"I"},{"r":1,"p":163,"a":"T"},{"r":1,"p":164,"a":"K"},{"r":1,"p":165,"a":"D"},{"r":1,"p":166,"a":"E"},{"r":1,"p":167,"a":"I"},{"r":1,"p":168,"a":"K"},{"r":1,"p":169,"a":"Q"},{"r":1,"p":170,"a":"Y"},{"r":1,"p":171,"a":"V"},{"r":1,"p":172,"a":"K"},{"r":1,"p":173,"a":"E"},{"r":1,"p":174,"a":"Y"},{"r":1,"p":175,"a":"V"},{"r":1,"p":176,"a":"Q"},{"r":1,"p":177,"a":"A"},{"r":1,"p":178,"a":"A"},{"r":1,"p":179,"a":"K"},
{"r":2,"p":158,"a":"P"},{"r":2,"p":159,"a":"Q"},{"r":2,"p":160,"a":"H"},{"r":2,"p":161,"a":"S"},{"r":2,"p":162,"a":"I"},{"r":2,"p":163,"a":"T"},{"r":2,"p":164,"a":"K"},{"r":2,"p":165,"a":"D"},{"r":2,"p":166,"a":"E"},{"r":2,"p":167,"a":"I"},{"r":2,"p":168,"a":"K"},{"r":2,"p":169,"a":"Q"},{"r":2,"p":170,"a":"Y"},{"r":2,"p":171,"a":"V"},{"r":2,"p":172,"a":"K"},{"r":2,"p":173,"a":"E"},{"r":2,"p":174,"a":"Y"},{"r":2,"p":175,"a":"V"},{"r":2,"p":176,"a":"Q"},{"r":2,"p":177,"a":"A"},{"r":2,"p":178,"a":"A"},{"r":2,"p":179,"a":"K"},
{"r":3,"p":158,"a":"P"},{"r":3,"p":159,"a":"Q"},{"r":3,"p":160,"a":"H"},{"r":3,"p":161,"a":"S"},{"r":3,"p":162,"a":"I"},{"r":3,"p":163,"a":"T"},{"r":3,"p":164,"a":"K"},{"r":3,"p":165,"a":"D"},{"r":3,"p":166,"a":"E"},{"r":3,"p":167,"a":"I"},{"r":3,"p":168,"a":"K"},{"r":3,"p":169,"a":"Q"},{"r":3,"p":170,"a":"Y"},{"r":3,"p":171,"a":"V"},{"r":3,"p":172,"a":"K"},{"r":3,"p":173,"a":"E"},{"r":3,"p":174,"a":"Y"},{"r":3,"p":175,"a":"V"},{"r":3,"p":176,"a":"Q"},{"r":3,"p":177,"a":"A"},{"r":3,"p":178,"a":"A"},{"r":3,"p":179,"a":"K"},
{"r":4,"p":158,"a":"P"},{"r":4,"p":159,"a":"Q"},{"r":4,"p":160,"a":"H"},{"r":4,"p":161,"a":"S"},{"r":4,"p":162,"a":"I"},{"r":4,"p":163,"a":"T"},{"r":4,"p":164,"a":"K"},{"r":4,"p":165,"a":"D"},{"r":4,"p":166,"a":"E"},{"r":4,"p":167,"a":"I"},{"r":4,"p":168,"a":"K"},{"r":4,"p":169,"a":"Q"},{"r":4,"p":170,"a":"Y"},{"r":4,"p":171,"a":"V"},{"r":4,"p":172,"a":"K"},{"r":4,"p":173,"a":"E"},{"r":4,"p":174,"a":"Y"},{"r":4,"p":175,"a":"V"},{"r":4,"p":176,"a":"Q"},{"r":4,"p":177,"a":"A"},{"r":4,"p":178,"a":"A"},{"r":4,"p":179,"a":"K"},
{"r":5,"p":158,"a":"P"},{"r":5,"p":159,"a":"Q"},{"r":5,"p":160,"a":"H"},{"r":5,"p":161,"a":"S"},{"r":5,"p":162,"a":"I"},{"r":5,"p":163,"a":"T"},{"r":5,"p":164,"a":"K"},{"r":5,"p":165,"a":"D"},{"r":5,"p":166,"a":"E"},{"r":5,"p":167,"a":"I"},{"r":5,"p":168,"a":"K"},{"r":5,"p":169,"a":"Q"},{"r":5,"p":170,"a":"Y"},{"r":5,"p":171,"a":"V"},{"r":5,"p":172,"a":"K"},{"r":5,"p":173,"a":"E"},{"r":5,"p":174,"a":"Y"},{"r":5,"p":175,"a":"V"},{"r":5,"p":176,"a":"Q"},{"r":5,"p":177,"a":"A"},{"r":5,"p":178,"a":"A"},{"r":5,"p":179,"a":"K"},
{"r":6,"p":158,"a":"P"},{"r":6,"p":159,"a":"Q"},{"r":6,"p":160,"a":"H"},{"r":6,"p":161,"a":"S"},{"r":6,"p":162,"a":"I"},{"r":6,"p":163,"a":"T"},{"r":6,"p":164,"a":"K"},{"r":6,"p":165,"a":"D"},{"r":6,"p":166,"a":"E"},{"r":6,"p":167,"a":"I"},{"r":6,"p":168,"a":"K"},{"r":6,"p":169,"a":"Q"},{"r":6,"p":170,"a":"Y"},{"r":6,"p":171,"a":"V"},{"r":6,"p":172,"a":"K"},{"r":6,"p":173,"a":"E"},{"r":6,"p":174,"a":"Y"},{"r":6,"p":175,"a":"V"},{"r":6,"p":176,"a":"Q"},{"r":6,"p":177,"a":"A"},{"r":6,"p":178,"a":"A"},{"r":6,"p":179,"a":"K"},
{"r":7,"p":158,"a":"P"},{"r":7,"p":159,"a":"Q"},{"r":7,"p":160,"a":"H"},{"r":7,"p":161,"a":"S"},{"r":7,"p":162,"a":"I"},{"r":7,"p":163,"a":"T"},{"r":7,"p":164,"a":"K"},{"r":7,"p":165,"a":"D"},{"r":7,"p":166,"a":"E"},{"r":7,"p":167,"a":"I"},{"r":7,"p":168,"a":"K"},{"r":7,"p":169,"a":"Q"},{"r":7,"p":170,"a":"Y"},{"r":7,"p":171,"a":"V"},{"r":7,"p":172,"a":"K"},{"r":7,"p":173,"a":"E"},{"r":7,"p":174,"a":"Y"},{"r":7,"p":175,"a":"V"},{"r":7,"p":176,"a":"Q"},{"r":7,"p":177,"a":"A"},{"r":7,"p":178,"a":"A"},{"r":7,"p":179,"a":"K"},
{"r":8,"p":158,"a":"P"},{"r":8,"p":159,"a":"Q"},{"r":8,"p":160,"a":"H"},{"r":8,"p":161,"a":"S"},{"r":8,"p":162,"a":"I"},{"r":8,"p":163,"a":"T"},{"r":8,"p":164,"a":"K"},{"r":8,"p":165,"a":"D"},{"r":8,"p":166,"a":"E"},{"r":8,"p":167,"a":"I"},{"r":8,"p":168,"a":"K"},{"r":8,"p":169,"a":"Q"},{"r":8,"p":170,"a":"Y"},{"r":8,"p":171,"a":"V"},{"r":8,"p":172,"a":"K"},{"r":8,"p":173,"a":"E"},{"r":8,"p":174,"a":"Y"},{"r":8,"p":175,"a":"V"},{"r":8,"p":176,"a":"Q"},{"r":8,"p":177,"a":"A"},{"r":8,"p":178,"a":"A"},{"r":8,"p":179,"a":"K"},
{"r":9,"p":158,"a":"P"},{"r":9,"p":159,"a":"Q"},{"r":9,"p":160,"a":"H"},{"r":9,"p":161,"a":"S"},{"r":9,"p":162,"a":"I"},{"r":9,"p":163,"a":"T"},{"r":9,"p":164,"a":"K"},{"r":9,"p":165,"a":"D"},{"r":9,"p":166,"a":"E"},{"r":9,"p":167,"a":"I"},{"r":9,"p":168,"a":"K"},{"r":9,"p":169,"a":"Q"},{"r":9,"p":170,"a":"Y"},{"r":9,"p":171,"a":"V"},{"r":9,"p":172,"a":"K"},{"r":9,"p":173,"a":"E"},{"r":9,"p":174,"a":"Y"},{"r":9,"p":175,"a":"V"},{"r":9,"p":176,"a":"Q"},{"r":9,"p":177,"a":"A"},{"r":9,"p":178,"a":"A"},{"r":9,"p":179,"a":"K"},
{"r":10,"p":158,"a":"P"},{"r":10,"p":159,"a":"Q"},{"r":10,"p":160,"a":"H"},{"r":10,"p":161,"a":"S"},{"r":10,"p":162,"a":"I"},{"r":10,"p":163,"a":"T"},{"r":10,"p":164,"a":"K"},{"r":10,"p":165,"a":"D"},{"r":10,"p":166,"a":"E"},{"r":10,"p":167,"a":"I"},{"r":10,"p":168,"a":"K"},{"r":10,"p":169,"a":"Q"},{"r":10,"p":170,"a":"Y"},{"r":10,"p":171,"a":"V"},{"r":10,"p":172,"a":"K"},{"r":10,"p":173,"a":"E"},{"r":10,"p":174,"a":"Y"},{"r":10,"p":175,"a":"V"},{"r":10,"p":176,"a":"Q"},{"r":10,"p":177,"a":"A"},{"r":10,"p":178,"a":"A"},{"r":10,"p":179,"a":"K"},
{"r":11,"p":158,"a":"P"},{"r":11,"p":159,"a":"Q"},{"r":11,"p":160,"a":"H"},{"r":11,"p":161,"a":"S"},{"r":11,"p":162,"a":"I"},{"r":11,"p":163,"a":"T"},{"r":11,"p":164,"a":"K"},{"r":11,"p":165,"a":"D"},{"r":11,"p":166,"a":"E"},{"r":11,"p":167,"a":"I"},{"r":11,"p":168,"a":"K"},{"r":11,"p":169,"a":"Q"},{"r":11,"p":170,"a":"Y"},{"r":11,"p":171,"a":"V"},{"r":11,"p":172,"a":"K"},{"r":11,"p":173,"a":"E"},{"r":11,"p":174,"a":"Y"},{"r":11,"p":175,"a":"V"},{"r":11,"p":176,"a":"Q"},{"r":11,"p":177,"a":"A"},{"r":11,"p":178,"a":"A"},{"r":11,"p":179,"a":"K"},
{"r":12,"p":158,"a":"P"},{"r":12,"p":159,"a":"Q"},{"r":12,"p":160,"a":"H"},{"r":12,"p":161,"a":"S"},{"r":12,"p":162,"a":"I"},{"r":12,"p":163,"a":"T"},{"r":12,"p":164,"a":"K"},{"r":12,"p":165,"a":"D"},{"r":12,"p":166,"a":"E"},{"r":12,"p":167,"a":"I"},{"r":12,"p":168,"a":"K"},{"r":12,"p":169,"a":"Q"},{"r":12,"p":170,"a":"Y"},{"r":12,"p":171,"a":"V"},{"r":12,"p":172,"a":"K"},{"r":12,"p":173,"a":"E"},{"r":12,"p":174,"a":"Y"},{"r":12,"p":175,"a":"V"},{"r":12,"p":176,"a":"Q"},{"r":12,"p":177,"a":"A"},{"r":12,"p":178,"a":"A"},{"r":12,"p":179,"a":"K"},
{"r":13,"p":158,"a":"P"},{"r":13,"p":159,"a":"Q"},{"r":13,"p":160,"a":"H"},{"r":13,"p":161,"a":"S"},{"r":13,"p":162,"a":"I"},{"r":13,"p":163,"a":"T"},{"r":13,"p":164,"a":"K"},{"r":13,"p":165,"a":"D"},{"r":13,"p":166,"a":"E"},{"r":13,"p":167,"a":"I"},{"r":13,"p":168,"a":"K"},{"r":13,"p":169,"a":"Q"},{"r":13,"p":170,"a":"Y"},{"r":13,"p":171,"a":"V"},{"r":13,"p":172,"a":"K"},{"r":13,"p":173,"a":"E"},{"r":13,"p":174,"a":"Y"},{"r":13,"p":175,"a":"V"},{"r":13,"p":176,"a":"Q"},{"r":13,"p":177,"a":"A"},{"r":13,"p":178,"a":"A"},{"r":13,"p":179,"a":"K"},
{"r":14,"p":158,"a":"P"},{"r":14,"p":159,"a":"Q"},{"r":14,"p":160,"a":"H"},{"r":14,"p":161,"a":"S"},{"r":14,"p":162,"a":"I"},{"r":14,"p":163,"a":"T"},{"r":14,"p":164,"a":"K"},{"r":14,"p":165,"a":"D"},{"r":14,"p":166,"a":"E"},{"r":14,"p":167,"a":"I"},{"r":14,"p":168,"a":"K"},{"r":14,"p":169,"a":"Q"},{"r":14,"p":170,"a":"Y"},{"r":14,"p":171,"a":"V"},{"r":14,"p":172,"a":"K"},{"r":14,"p":173,"a":"E"},{"r":14,"p":174,"a":"Y"},{"r":14,"p":175,"a":"V"},{"r":14,"p":176,"a":"Q"},{"r":14,"p":177,"a":"A"},{"r":14,"p":178,"a":"A"},{"r":14,"p":179,"a":"K"},
{"r":15,"p":158,"a":"P"},{"r":15,"p":159,"a":"Q"},{"r":15,"p":160,"a":"H"},{"r":15,"p":161,"a":"S"},{"r":15,"p":162,"a":"I"},{"r":15,"p":163,"a":"T"},{"r":15,"p":164,"a":"K"},{"r":15,"p":165,"a":"D"},{"r":15,"p":166,"a":"E"},{"r":15,"p":167,"a":"I"},{"r":15,"p":168,"a":"K"},{"r":15,"p":169,"a":"Q"},{"r":15,"p":170,"a":"Y"},{"r":15,"p":171,"a":"V"},{"r":15,"p":172,"a":"K"},{"r":15,"p":173,"a":"E"},{"r":15,"p":174,"a":"Y"},{"r":15,"p":175,"a":"V"},{"r":15,"p":176,"a":"Q"},{"r":15,"p":177,"a":"A"},{"r":15,"p":178,"a":"A"},{"r":15,"p":179,"a":"K"},
{"r":16,"p":158,"a":"P"},{"r":16,"p":159,"a":"Q"},{"r":16,"p":160,"a":"H"},{"r":16,"p":161,"a":"S"},{"r":16,"p":162,"a":"I"},{"r":16,"p":163,"a":"T"},{"r":16,"p":164,"a":"K"},{"r":16,"p":165,"a":"D"},{"r":16,"p":166,"a":"E"},{"r":16,"p":167,"a":"I"},{"r":16,"p":168,"a":"K"},{"r":16,"p":169,"a":"Q"},{"r":16,"p":170,"a":"Y"},{"r":16,"p":171,"a":"V"},{"r":16,"p":172,"a":"K"},{"r":16,"p":173,"a":"E"},{"r":16,"p":174,"a":"Y"},{"r":16,"p":175,"a":"V"},{"r":16,"p":176,"a":"Q"},{"r":16,"p":177,"a":"A"},{"r":16,"p":178,"a":"A"},{"r":16,"p":179,"a":"K"},
{"r":17,"p":158,"a":"P"},{"r":17,"p":159,"a":"Q"},{"r":17,"p":160,"a":"H"},{"r":17,"p":161,"a":"S"},{"r":17,"p":162,"a":"I"},{"r":17,"p":163,"a":"T"},{"r":17,"p":164,"a":"K"},{"r":17,"p":165,"a":"D"},{"r":17,"p":166,"a":"E"},{"r":17,"p":167,"a":"I"},{"r":17,"p":168,"a":"K"},{"r":17,"p":169,"a":"Q"},{"r":17,"p":170,"a":"Y"},{"r":17,"p":171,"a":"V"},{"r":17,"p":172,"a":"K"},{"r":17,"p":173,"a":"E"},{"r":17,"p":174,"a":"Y"},{"r":17,"p":175,"a":"V"},{"r":17,"p":176,"a":"Q"},{"r":17,"p":177,"a":"A"},{"r":17,"p":178,"a":"A"},{"r":17,"p":179,"a":"K"},
{"r":18,"p":158,"a":"P"},{"r":18,"p":159,"a":"Q"},{"r":18,"p":160,"a":"H"},{"r":18,"p":161,"a":"S"},{"r":18,"p":162,"a":"I"},{"r":18,"p":163,"a":"T"},{"r":18,"p":164,"a":"K"},{"r":18,"p":165,"a":"D"},{"r":18,"p":166,"a":"E"},{"r":18,"p":167,"a":"I"},{"r":18,"p":168,"a":"K"},{"r":18,"p":169,"a":"Q"},{"r":18,"p":170,"a":"Y"},{"r":18,"p":171,"a":"V"},{"r":18,"p":172,"a":"K"},{"r":18,"p":173,"a":"E"},{"r":18,"p":174,"a":"Y"},{"r":18,"p":175,"a":"V"},{"r":18,"p":176,"a":"Q"},{"r":18,"p":177,"a":"A"},{"r":18,"p":178,"a":"A"},{"r":18,"p":179,"a":"K"},
{"r":19,"p":158,"a":"P"},{"r":19,"p":159,"a":"Q"},{"r":19,"p":160,"a":"H"},{"r":19,"p":161,"a":"S"},{"r":19,"p":162,"a":"I"},{"r":19,"p":163,"a":"T"},{"r":19,"p":164,"a":"K"},{"r":19,"p":165,"a":"D"},{"r":19,"p":166,"a":"E"},{"r":19,"p":167,"a":"I"},{"r":19,"p":168,"a":"K"},{"r":19,"p":169,"a":"Q"},{"r":19,"p":170,"a":"Y"},{"r":19,"p":171,"a":"V"},{"r":19,"p":172,"a":"K"},{"r":19,"p":173,"a":"E"},{"r":19,"p":174,"a":"Y"},{"r":19,"p":175,"a":"V"},{"r":19,"p":176,"a":"Q"},{"r":19,"p":177,"a":"A"},{"r":19,"p":178,"a":"A"},{"r":19,"p":179,"a":"K"},
{"r":20,"p":158,"a":"P"},{"r":20,"p":159,"a":"Q"},{"r":20,"p":160,"a":"H"},{"r":20,"p":161,"a":"S"},{"r":20,"p":162,"a":"I"},{"r":20,"p":163,"a":"T"},{"r":20,"p":164,"a":"K"},{"r":20,"p":165,"a":"D"},{"r":20,"p":166,"a":"E"},{"r":20,"p":167,"a":"I"},{"r":20,"p":168,"a":"K"},{"r":20,"p":169,"a":"Q"},{"r":20,"p":170,"a":"Y"},{"r":20,"p":171,"a":"V"},{"r":20,"p":172,"a":"K"},{"r":20,"p":173,"a":"E"},{"r":20,"p":174,"a":"Y"},{"r":20,"p":175,"a":"V"},{"r":20,"p":176,"a":"Q"},{"r":20,"p":177,"a":"A"},{"r":20,"p":178,"a":"A"},{"r":20,"p":179,"a":"K"},
{"r":21,"p":158,"a":"P"},{"r":21,"p":159,"a":"Q"},{"r":21,"p":160,"a":"H"},{"r":21,"p":161,"a":"S"},{"r":21,"p":162,"a":"I"},{"r":21,"p":163,"a":"T"},{"r":21,"p":164,"a":"K"},{"r":21,"p":165,"a":"D"},{"r":21,"p":166,"a":"E"},{"r":21,"p":167,"a":"I"},{"r":21,"p":168,"a":"K"},{"r":21,"p":169,"a":"Q"},{"r":21,"p":170,"a":"Y"},{"r":21,"p":171,"a":"V"},{"r":21,"p":172,"a":"K"},{"r":21,"p":173,"a":"E"},{"r":21,"p":174,"a":"Y"},{"r":21,"p":175,"a":"V"},{"r":21,"p":176,"a":"Q"},{"r":21,"p":177,"a":"A"},{"r":21,"p":178,"a":"A"},{"r":21,"p":179,"a":"K"},
{"r":22,"p":158,"a":"P"},{"r":22,"p":159,"a":"Q"},{"r":22,"p":160,"a":"H"},{"r":22,"p":161,"a":"S"},{"r":22,"p":162,"a":"I"},{"r":22,"p":163,"a":"T"},{"r":22,"p":164,"a":"K"},{"r":22,"p":165,"a":"D"},{"r":22,"p":166,"a":"E"},{"r":22,"p":167,"a":"I"},{"r":22,"p":168,"a":"K"},{"r":22,"p":169,"a":"Q"},{"r":22,"p":170,"a":"Y"},{"r":22,"p":171,"a":"V"},{"r":22,"p":172,"a":"K"},{"r":22,"p":173,"a":"E"},{"r":22,"p":174,"a":"Y"},{"r":22,"p":175,"a":"V"},{"r":22,"p":176,"a":"Q"},{"r":22,"p":177,"a":"A"},{"r":22,"p":178,"a":"A"},{"r":22,"p":179,"a":"K"},
{"r":23,"p":158,"a":"P"},{"r":23,"p":159,"a":"Q"},{"r":23,"p":160,"a":"H"},{"r":23,"p":161,"a":"S"},{"r":23,"p":162,"a":"I"},{"r":23,"p":163,"a":"T"},{"r":23,"p":164,"a":"K"},{"r":23,"p":165,"a":"D"},{"r":23,"p":166,"a":"E"},{"r":23,"p":167,"a":"I"},{"r":23,"p":168,"a":"K"},{"r":23,"p":169,"a":"Q"},{"r":23,"p":170,"a":"Y"},{"r":23,"p":171,"a":"V"},{"r":23,"p":172,"a":"K"},{"r":23,"p":173,"a":"E"},{"r":23,"p":174,"a":"Y"},{"r":23,"p":175,"a":"V"},{"r":23,"p":176,"a":"Q"},{"r":23,"p":177,"a":"A"},{"r":23,"p":178,"a":"A"},{"r":23,"p":179,"a":"K"},
{"r":24,"p":158,"a":"P"},{"r":24,"p":159,"a":"Q"},{"r":24,"p":160,"a":"H"},{"r":24,"p":161,"a":"S"},{"r":24,"p":162,"a":"I"},{"r":24,"p":163,"a":"T"},{"r":24,"p":164,"a":"K"},{"r":24,"p":165,"a":"D"},{"r":24,"p":166,"a":"E"},{"r":24,"p":167,"a":"I"},{"r":24,"p":168,"a":"K"},{"r":24,"p":169,"a":"Q"},{"r":24,"p":170,"a":"Y"},{"r":24,"p":171,"a":"V"},{"r":24,"p":172,"a":"K"},{"r":24,"p":173,"a":"E"},{"r":24,"p":174,"a":"Y"},{"r":24,"p":175,"a":"V"},{"r":24,"p":176,"a":"*"}
],
"rs":[{"temp":"24°C","strain":"OYE2-G","rs":10.0,"up":13.0},{"temp":"24°C","strain":"H4","rs":6.6,"up":12.8},{"temp":"24°C","strain":"OYE2-B","rs":2.8,"up":5.6},{"temp":"28°C","strain":"OYE2-G","rs":57.3,"up":67.1},{"temp":"28°C","strain":"H4","rs":43.2,"up":53.2},{"temp":"28°C","strain":"OYE2-B","rs":37.8,"up":41.1},{"temp":"32°C","strain":"OYE2-G","rs":84.7,"up":90.0},{"temp":"32°C","strain":"H4","rs":72.3,"up":78.4},{"temp":"32°C","strain":"OYE2-B","rs":58.7,"up":66.5}],
"legs":[{"temp":"24°C","strain":"OYE2-G","top":20.0,"leg":18.0},{"temp":"24°C","strain":"OYE2-B","top":20.0,"leg":18.0},{"temp":"28°C","strain":"OYE2-G","top":75.1,"leg":72.9},{"temp":"28°C","strain":"OYE2-B","top":75.1,"leg":72.9},{"temp":"32°C","strain":"OYE2-G","top":97.0,"leg":94.9},{"temp":"32°C","strain":"OYE2-B","top":97.0,"leg":94.9}],
"sig":[{"temp":"24°C","lab":"ns","ty":30.8,"top":20.0},{"temp":"28°C","lab":".","ty":85.8,"top":75.1},{"temp":"32°C","lab":"**","ty":103.0,"top":97.0}],
"refs":[{"v":30},{"v":80}],
"co2":[
{"strain":"OYE2-G","t":0,"m":-1.8,"lo":-3,"hi":-0.5},{"strain":"OYE2-G","t":3,"m":0,"lo":-0.8,"hi":0.6},{"strain":"OYE2-G","t":12,"m":12.2,"lo":11.5,"hi":13},{"strain":"OYE2-G","t":24,"m":30.0,"lo":29,"hi":30.8},{"strain":"OYE2-G","t":36,"m":43.5,"lo":42.5,"hi":44.5},{"strain":"OYE2-G","t":48,"m":54.5,"lo":53.5,"hi":55.5},{"strain":"OYE2-G","t":60,"m":64.0,"lo":63,"hi":65},{"strain":"OYE2-G","t":72,"m":71.4,"lo":70.5,"hi":72.5},{"strain":"OYE2-G","t":84,"m":76.6,"lo":75.8,"hi":77.6},{"strain":"OYE2-G","t":96,"m":78.7,"lo":77.8,"hi":79.8},{"strain":"OYE2-G","t":108,"m":79.8,"lo":78.8,"hi":81},{"strain":"OYE2-G","t":120,"m":80.1,"lo":79.0,"hi":81.3},{"strain":"OYE2-G","t":132,"m":79.9,"lo":78.7,"hi":81.1},{"strain":"OYE2-G","t":144,"m":79.5,"lo":78.2,"hi":80.8},{"strain":"OYE2-G","t":156,"m":79.8,"lo":78.5,"hi":81.1},{"strain":"OYE2-G","t":168,"m":80.1,"lo":78.8,"hi":81.5},{"strain":"OYE2-G","t":180,"m":80.4,"lo":79.1,"hi":81.8},{"strain":"OYE2-G","t":200,"m":80.8,"lo":79.5,"hi":82.3},{"strain":"OYE2-G","t":225,"m":81.3,"lo":79.9,"hi":82.8},{"strain":"OYE2-G","t":250,"m":81.7,"lo":80.2,"hi":83.3},{"strain":"OYE2-G","t":275,"m":82.1,"lo":80.6,"hi":83.7},{"strain":"OYE2-G","t":300,"m":82.5,"lo":80.9,"hi":84.1},{"strain":"OYE2-G","t":325,"m":82.8,"lo":81.1,"hi":84.5},{"strain":"OYE2-G","t":350,"m":83.0,"lo":81.3,"hi":84.9},{"strain":"OYE2-G","t":363,"m":83.1,"lo":81.4,"hi":85.1},
{"strain":"H4","t":0,"m":0,"lo":-0.5,"hi":0.5},{"strain":"H4","t":3,"m":0.2,"lo":-0.3,"hi":0.7},{"strain":"H4","t":12,"m":12.6,"lo":12,"hi":13.4},{"strain":"H4","t":24,"m":30.8,"lo":30,"hi":31.6},{"strain":"H4","t":36,"m":44.0,"lo":43,"hi":45.5},{"strain":"H4","t":48,"m":55.5,"lo":54,"hi":57},{"strain":"H4","t":60,"m":65.4,"lo":64,"hi":67},{"strain":"H4","t":72,"m":73.5,"lo":72,"hi":75.2},{"strain":"H4","t":84,"m":79.2,"lo":77.8,"hi":80.8},{"strain":"H4","t":96,"m":82.2,"lo":80.8,"hi":83.6},{"strain":"H4","t":108,"m":84.2,"lo":83,"hi":85.6},{"strain":"H4","t":120,"m":85.0,"lo":83.6,"hi":86.6},{"strain":"H4","t":132,"m":85.0,"lo":83.5,"hi":86.7},{"strain":"H4","t":144,"m":84.9,"lo":83.2,"hi":86.8},{"strain":"H4","t":156,"m":85.7,"lo":83.8,"hi":87.6},{"strain":"H4","t":168,"m":86.2,"lo":84.2,"hi":88.2},{"strain":"H4","t":180,"m":86.4,"lo":84.4,"hi":88.5},{"strain":"H4","t":200,"m":86.8,"lo":84.8,"hi":88.9},{"strain":"H4","t":225,"m":87.2,"lo":85.2,"hi":89.3},{"strain":"H4","t":250,"m":87.5,"lo":85.5,"hi":89.6},{"strain":"H4","t":275,"m":87.9,"lo":85.8,"hi":90},{"strain":"H4","t":300,"m":88.3,"lo":86.2,"hi":90.4},{"strain":"H4","t":325,"m":88.5,"lo":86.4,"hi":90.6},{"strain":"H4","t":350,"m":88.8,"lo":86.7,"hi":90.9},{"strain":"H4","t":363,"m":88.9,"lo":86.8,"hi":91},
{"strain":"OYE2-B","t":0,"m":0,"lo":-1,"hi":1},{"strain":"OYE2-B","t":3,"m":0.3,"lo":-0.7,"hi":1.3},{"strain":"OYE2-B","t":12,"m":12.7,"lo":11,"hi":14.5},{"strain":"OYE2-B","t":24,"m":31.0,"lo":29,"hi":33},{"strain":"OYE2-B","t":36,"m":45.0,"lo":42,"hi":48},{"strain":"OYE2-B","t":48,"m":57.0,"lo":53.5,"hi":61},{"strain":"OYE2-B","t":60,"m":67.5,"lo":63.5,"hi":72},{"strain":"OYE2-B","t":72,"m":76.0,"lo":72,"hi":80.5},{"strain":"OYE2-B","t":84,"m":82.0,"lo":78,"hi":86.5},{"strain":"OYE2-B","t":96,"m":85.5,"lo":81.5,"hi":89.5},{"strain":"OYE2-B","t":108,"m":87.8,"lo":84,"hi":91.5},{"strain":"OYE2-B","t":120,"m":89.2,"lo":85.5,"hi":92.8},{"strain":"OYE2-B","t":132,"m":89.8,"lo":86,"hi":93.5},{"strain":"OYE2-B","t":144,"m":90.3,"lo":86.5,"hi":94},{"strain":"OYE2-B","t":156,"m":90.8,"lo":87,"hi":94.6},{"strain":"OYE2-B","t":168,"m":91.3,"lo":87.5,"hi":95},{"strain":"OYE2-B","t":180,"m":91.7,"lo":88,"hi":95.3},{"strain":"OYE2-B","t":200,"m":92.2,"lo":88.5,"hi":95.6},{"strain":"OYE2-B","t":225,"m":92.6,"lo":89,"hi":95.9},{"strain":"OYE2-B","t":250,"m":92.9,"lo":89.3,"hi":96.2},{"strain":"OYE2-B","t":275,"m":93.2,"lo":89.6,"hi":96.5},{"strain":"OYE2-B","t":300,"m":93.5,"lo":89.9,"hi":96.8},{"strain":"OYE2-B","t":325,"m":93.7,"lo":90.1,"hi":97.1},{"strain":"OYE2-B","t":350,"m":94.0,"lo":90.4,"hi":97.4},{"strain":"OYE2-B","t":363,"m":94.1,"lo":90.5,"hi":97.5}
]
},
"concat":[
{
"width":599,"height":637,
"view":{"stroke":"#9a9a9a","strokeWidth":2},
"title":{"text":"A","anchor":"start","frame":"group","orient":"top","offset":0,"dx":13,"dy":38,"baseline":"alphabetic","fontSize":48,"fontWeight":"bold","font":"Liberation Sans","color":"black"},
"data":{"name":"names"},
"mark":{"type":"text","align":"left","baseline":"middle","fontSize":23,"color":"#1e1e1e","dx":4},
"encoding":{
"y":{"field":"r","type":"ordinal","scale":{"range":[0,624],"paddingInner":0,"paddingOuter":0},"axis":null},
"x":{"datum":0,"type":"quantitative","scale":{"domain":[0,1]},"axis":null},
"text":{"field":"n"}
}
},
{
"width":941,"height":637,
"data":{"name":"seq"},
"transform":[{"filter":"datum.p < 150"},{"lookup":"p","from":{"data":{"name":"cons"},"key":"p","fields":["c"]}}],
"encoding":{
"x":{"field":"p","type":"ordinal","scale":{"paddingInner":0,"paddingOuter":0},"axis":{"orient":"top","offset":49,"domain":false,"title":null,"tickSize":{"condition":{"test":"datum.value % 5 === 0","value":-14},"value":-4},"tickColor":"#707070","tickWidth":2.5,"labelExpr":"datum.value % 10 === 0 ? datum.label : ''","labelFont":"Liberation Mono","labelFontSize":26,"labelColor":"#222222","labelPadding":-25,"labelBaseline":"alphabetic","labelAlign":"right","labelOffset":27,"labelAngle":0,"labelOverlap":false,"labelBound":false,"labelFlush":false}},
"y":{"field":"r","type":"ordinal","scale":{"range":[0,624],"paddingInner":0,"paddingOuter":0},"axis":null}
},
"layer":[
{"mark":{"type":"rect","strokeWidth":0},"encoding":{"color":{"condition":{"test":"datum.a !== datum.c","value":"white"},"field":"a","type":"nominal","scale":{"domain":["T","S","E","D","G","F","Y","A","P","Q","N","H","K","I","L","V","W"],"range":["#5a82aa","#5a82aa","#ff0000","#ff0000","#f09c00","#1fb8a6","#22b2a0","#0fcab8","#887c6c","#7a78c0","#8a86c8","#ee22ee","#00cc00","#007a40","#00743c","#007f3e","#2aa05e"]},"legend":null}}},
{"mark":{"type":"text","fontSize":22,"baseline":"middle","color":"#111111","font":"Liberation Sans"},"encoding":{"text":{"field":"a"}}}
]
},
{
"width":401,"height":637,
"data":{"name":"seq"},
"transform":[{"filter":"datum.p > 150"},{"lookup":"p","from":{"data":{"name":"cons"},"key":"p","fields":["c"]}}],
"encoding":{
"x":{"field":"p","type":"ordinal","scale":{"range":[14,397.5],"paddingInner":0,"paddingOuter":0},"axis":{"orient":"top","offset":49,"domain":false,"title":null,"tickSize":{"condition":{"test":"datum.value % 5 === 0","value":-14},"value":-4},"tickColor":"#707070","tickWidth":2.5,"labelExpr":"datum.value % 10 === 0 ? datum.label : ''","labelFont":"Liberation Mono","labelFontSize":26,"labelColor":"#222222","labelPadding":-25,"labelBaseline":"alphabetic","labelAlign":"right","labelOffset":25,"labelAngle":0,"labelOverlap":false,"labelBound":false,"labelFlush":false}},
"y":{"field":"r","type":"ordinal","scale":{"domain":[1,2,3,4,5,6,7,8,9,10,11,12,13,14,15,16,17,18,19,20,21,22,23,24,25,26],"range":[0,624],"paddingInner":0,"paddingOuter":0},"axis":{"orient":"left","offset":-11,"domain":true,"domainColor":"#a0a0a0","domainWidth":3,"ticks":false,"labels":false,"title":null}}
},
"layer":[
{"mark":{"type":"rect","strokeWidth":0},"encoding":{"color":{"condition":{"test":"datum.a !== datum.c","value":"white"},"field":"a","type":"nominal","scale":{"domain":["T","S","E","D","G","F","Y","A","P","Q","N","H","K","I","L","V","W"],"range":["#5a82aa","#5a82aa","#ff0000","#ff0000","#f09c00","#1fb8a6","#22b2a0","#0fcab8","#887c6c","#7a78c0","#8a86c8","#ee22ee","#00cc00","#007a40","#00743c","#007f3e","#2aa05e"]},"legend":null}}},
{"mark":{"type":"text","fontSize":22,"baseline":"middle","color":"#111111","font":"Liberation Sans"},"encoding":{"text":{"field":"a"}}}
]
},
{
"width":599,"height":691,
"title":{"text":"B","anchor":"start","frame":"group","orient":"top","offset":0,"dx":156,"dy":93,"baseline":"alphabetic","fontSize":46,"fontWeight":"bold","font":"Liberation Sans","color":"black"},
"resolve":{"axis":{"y":"independent"}},
"encoding":{"x":{"field":"temp","type":"nominal","scale":{"range":[136.4,902.7],"paddingInner":0,"paddingOuter":0},"axis":{"orient":"bottom","domain":false,"ticks":false,"tickSize":0,"labelPadding":14,"labelBaseline":"middle","labelAngle":0,"labelFontSize":20,"labelColor":"black","title":null}}},
"layer":[
{"data":{"name":"rs"},"mark":{"type":"bar","stroke":"black","strokeWidth":1.2},
"encoding":{
"xOffset":{"field":"strain","type":"nominal","scale":{"domain":["OYE2-G","H4","OYE2-B"],"paddingInner":0.1667,"paddingOuter":0.0833}},
"y":{"field":"rs","type":"quantitative","scale":{"domain":[0,100],"range":[667,61],"nice":false},"axis":{"orient":"left","offset":-113,"values":[0,20,40,60,80,100],"domain":true,"domainColor":"black","domainWidth":2,"tickSize":12,"tickWidth":2,"tickColor":"black","labelFontSize":20,"labelColor":"black","labelAngle":-90,"labelAlign":"center","labelBaseline":"middle","labelPadding":25,"title":"RS (g/L)","titleFontSize":20,"titleFontWeight":"normal","titleColor":"black","titleX":-88,"titleY":333,"titleAngle":-90,"titleAlign":"center","titleBaseline":"middle"}},
"color":{"field":"strain","type":"nominal","scale":{"domain":["OYE2-G","H4","OYE2-B"],"range":["#D73027","#000000","#1A9850"]},"legend":{"orient":"none","legendX":454,"legendY":14,"direction":"vertical","title":null,"symbolType":"square","symbolSize":144,"symbolStrokeWidth":0,"labelFontSize":21,"labelColor":"black","labelOffset":9,"rowPadding":5,"padding":0,"labelExpr":"datum.label === 'H4' ? '\u200b\u00a0\u00a0\u00a0H4' : datum.label"}}
}},
{"data":{"name":"rs"},"mark":{"type":"rule","strokeWidth":2,"color":"black"},
"encoding":{"xOffset":{"field":"strain","type":"nominal"},"y":{"field":"rs","type":"quantitative","axis":null},"y2":{"field":"up"}}},
{"data":{"name":"legs"},"mark":{"type":"rule","strokeWidth":3,"color":"black"},
"encoding":{"xOffset":{"field":"strain","type":"nominal"},"y":{"field":"top","type":"quantitative","axis":null},"y2":{"field":"leg"}}},
{"data":{"name":"sig"},"mark":{"type":"tick","orient":"horizontal","size":170.3,"thickness":3,"color":"black","opacity":1},
"encoding":{"y":{"field":"top","type":"quantitative","axis":null}}},
{"data":{"name":"sig"},"mark":{"type":"text","fontSize":20,"baseline":"middle","align":"center","color":"black"},
"encoding":{"y":{"field":"ty","type":"quantitative","axis":null},"text":{"field":"lab"}}}
]
},
{
"width":941,"height":667,
"title":{"text":"C","anchor":"start","frame":"group","orient":"top","offset":0,"dx":509,"dy":93,"baseline":"alphabetic","fontSize":46,"fontWeight":"bold","font":"Liberation Sans","color":"black"},
"resolve":{"axis":{"x":"independent","y":"independent"},"legend":{"color":"independent"}},
"layer":[
{"data":{"name":"co2"},"mark":{"type":"area","opacity":0.12,"interpolate":"monotone"},
"encoding":{
"x":{"field":"t","type":"quantitative","scale":{"domain":[-15.0,377.1],"range":[488,1297],"nice":false,"zero":false},"axis":{"orient":"bottom","values":[0,100,200,300],"domain":true,"domainColor":"black","domainWidth":2,"tickSize":12,"tickWidth":2,"tickColor":"black","labelFontSize":20,"labelColor":"black","labelPadding":26,"labelBaseline":"middle","labelAngle":0,"labelFlush":false,"title":"time (h)","titleFontSize":20,"titleFontWeight":"normal","titleColor":"black","titleY":82,"titleBaseline":"middle"}},
"y":{"field":"lo","type":"quantitative","scale":{"domain":[-4.77,130.1],"nice":false,"zero":false},"axis":{"orient":"left","offset":-488,"values":[0,20,40,60,80,100,120],"domain":true,"domainColor":"black","domainWidth":2,"tickSize":12,"tickWidth":2,"tickColor":"black","labelFontSize":20,"labelColor":"black","labelAngle":-90,"labelAlign":"center","labelBaseline":"middle","labelPadding":26,"title":"CO2 produced g/L","titleFontSize":20,"titleFontWeight":"normal","titleColor":"black","titleX":-90,"titleY":333,"titleAngle":-90,"titleAlign":"center","titleBaseline":"middle"}},
"y2":{"field":"hi"},
"color":{"field":"strain","type":"nominal","scale":{"domain":["OYE2-G","H4","OYE2-B"],"range":["#D73027","#000000","#1A9850"]},"legend":null}
}},
{"data":{"name":"co2"},"mark":{"type":"line","strokeWidth":1.6,"strokeDash":[2,3],"interpolate":"monotone"},
"encoding":{"x":{"field":"t","type":"quantitative","axis":null},"y":{"field":"lo","type":"quantitative","axis":null},"color":{"field":"strain","type":"nominal","legend":null}}},
{"data":{"name":"co2"},"mark":{"type":"line","strokeWidth":1.6,"strokeDash":[2,3],"interpolate":"monotone"},
"encoding":{"x":{"field":"t","type":"quantitative","axis":null},"y":{"field":"hi","type":"quantitative","axis":null},"color":{"field":"strain","type":"nominal","legend":null}}},
{"data":{"name":"refs"},"mark":{"type":"rule","strokeDash":[10,7],"strokeWidth":2,"color":"black"},
"encoding":{"x":{"datum":-15.0,"type":"quantitative","axis":null},"x2":{"datum":377.1},"y":{"field":"v","type":"quantitative","axis":null}}},
{"data":{"name":"co2"},"mark":{"type":"line","strokeWidth":4.5,"interpolate":"monotone"},
"encoding":{"x":{"field":"t","type":"quantitative","axis":{"orient":"top","domain":true,"domainColor":"black","domainWidth":2,"ticks":false,"labels":false,"title":null}},"y":{"field":"m","type":"quantitative","axis":{"orient":"right","offset":356,"domain":true,"domainColor":"black","domainWidth":2,"ticks":false,"labels":false,"title":null}},"color":{"field":"strain","type":"nominal","legend":null}}},
{"data":{"name":"co2"},"mark":{"type":"square","size":0,"opacity":1,"filled":true},
"encoding":{"x":{"field":"t","type":"quantitative","axis":null},"y":{"field":"m","type":"quantitative","axis":null},"color":{"field":"strain","type":"nominal","legend":{"orient":"none","legendX":823,"legendY":12,"direction":"vertical","title":null,"symbolType":"square","symbolSize":700,"symbolStrokeWidth":0,"symbolOpacity":1,"labelFontSize":21,"labelColor":"black","labelOffset":4,"rowPadding":0,"padding":0,"labelExpr":"datum.label === 'H4' ? '\u200b\u00a0\u00a0\u00a0H4' : datum.label"}}}}
]
}
]
}
